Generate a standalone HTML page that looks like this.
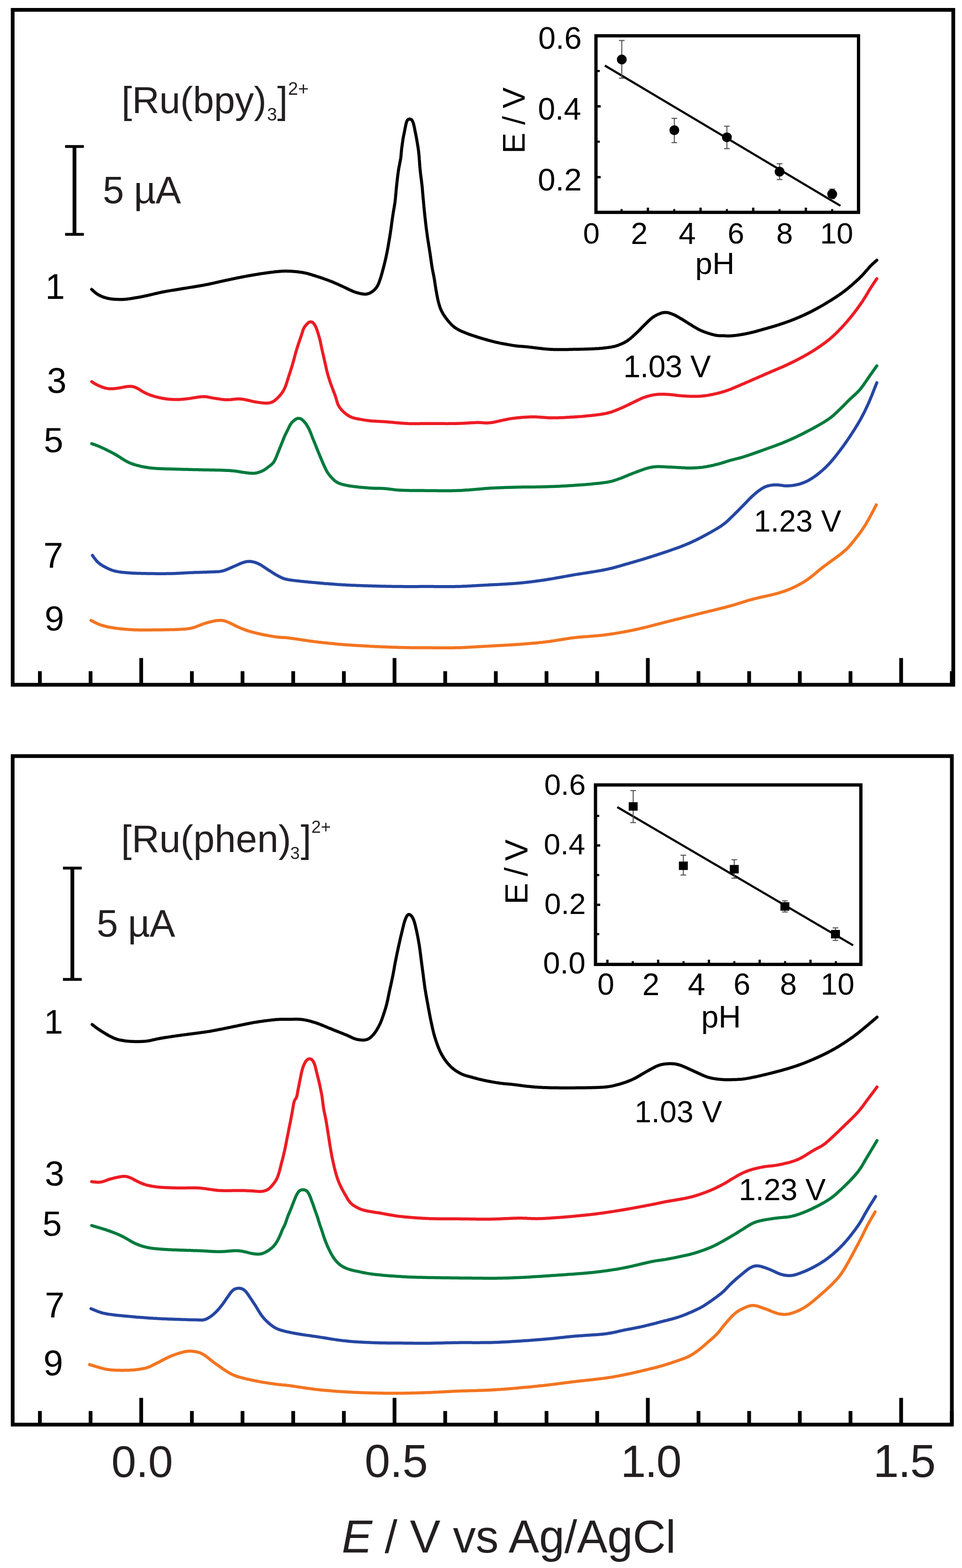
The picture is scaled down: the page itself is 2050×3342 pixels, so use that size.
<!DOCTYPE html><html><head><meta charset="utf-8"><title>Figure</title><style>html,body{margin:0;padding:0;background:#fff;}svg{display:block;}text{font-family:"Liberation Sans",Arial,Helvetica,sans-serif;}</style></head><body>
<svg xmlns="http://www.w3.org/2000/svg" width="2050" height="3342" viewBox="0 0 2050 3342">
<rect x="0" y="0" width="2050" height="3342" fill="#fff"/>
<rect x="27.0" y="21.0" width="2004.4" height="1438.5" fill="none" stroke="#000" stroke-width="8"/>
<line x1="85.0" y1="1459.5" x2="85.0" y2="1430.5" stroke="#000" stroke-width="8"/>
<line x1="193.0" y1="1459.5" x2="193.0" y2="1430.5" stroke="#000" stroke-width="8"/>
<line x1="300.9" y1="1459.5" x2="300.9" y2="1402.5" stroke="#000" stroke-width="8"/>
<line x1="408.9" y1="1459.5" x2="408.9" y2="1430.5" stroke="#000" stroke-width="8"/>
<line x1="516.8" y1="1459.5" x2="516.8" y2="1430.5" stroke="#000" stroke-width="8"/>
<line x1="624.8" y1="1459.5" x2="624.8" y2="1430.5" stroke="#000" stroke-width="8"/>
<line x1="732.8" y1="1459.5" x2="732.8" y2="1430.5" stroke="#000" stroke-width="8"/>
<line x1="840.7" y1="1459.5" x2="840.7" y2="1402.5" stroke="#000" stroke-width="8"/>
<line x1="948.7" y1="1459.5" x2="948.7" y2="1430.5" stroke="#000" stroke-width="8"/>
<line x1="1056.6" y1="1459.5" x2="1056.6" y2="1430.5" stroke="#000" stroke-width="8"/>
<line x1="1164.6" y1="1459.5" x2="1164.6" y2="1430.5" stroke="#000" stroke-width="8"/>
<line x1="1272.6" y1="1459.5" x2="1272.6" y2="1430.5" stroke="#000" stroke-width="8"/>
<line x1="1380.5" y1="1459.5" x2="1380.5" y2="1402.5" stroke="#000" stroke-width="8"/>
<line x1="1488.5" y1="1459.5" x2="1488.5" y2="1430.5" stroke="#000" stroke-width="8"/>
<line x1="1596.4" y1="1459.5" x2="1596.4" y2="1430.5" stroke="#000" stroke-width="8"/>
<line x1="1704.4" y1="1459.5" x2="1704.4" y2="1430.5" stroke="#000" stroke-width="8"/>
<line x1="1812.4" y1="1459.5" x2="1812.4" y2="1430.5" stroke="#000" stroke-width="8"/>
<line x1="1920.3" y1="1459.5" x2="1920.3" y2="1402.5" stroke="#000" stroke-width="8"/>
<line x1="2028.3" y1="1459.5" x2="2028.3" y2="1430.5" stroke="#000" stroke-width="8"/>
<rect x="27.0" y="1611.5" width="2001.4" height="1424.9" fill="none" stroke="#000" stroke-width="8"/>
<line x1="85.0" y1="3036.4" x2="85.0" y2="3007.4" stroke="#000" stroke-width="8"/>
<line x1="193.0" y1="3036.4" x2="193.0" y2="3007.4" stroke="#000" stroke-width="8"/>
<line x1="300.9" y1="3036.4" x2="300.9" y2="2979.4" stroke="#000" stroke-width="8"/>
<line x1="408.9" y1="3036.4" x2="408.9" y2="3007.4" stroke="#000" stroke-width="8"/>
<line x1="516.8" y1="3036.4" x2="516.8" y2="3007.4" stroke="#000" stroke-width="8"/>
<line x1="624.8" y1="3036.4" x2="624.8" y2="3007.4" stroke="#000" stroke-width="8"/>
<line x1="732.8" y1="3036.4" x2="732.8" y2="3007.4" stroke="#000" stroke-width="8"/>
<line x1="840.7" y1="3036.4" x2="840.7" y2="2979.4" stroke="#000" stroke-width="8"/>
<line x1="948.7" y1="3036.4" x2="948.7" y2="3007.4" stroke="#000" stroke-width="8"/>
<line x1="1056.6" y1="3036.4" x2="1056.6" y2="3007.4" stroke="#000" stroke-width="8"/>
<line x1="1164.6" y1="3036.4" x2="1164.6" y2="3007.4" stroke="#000" stroke-width="8"/>
<line x1="1272.6" y1="3036.4" x2="1272.6" y2="3007.4" stroke="#000" stroke-width="8"/>
<line x1="1380.5" y1="3036.4" x2="1380.5" y2="2979.4" stroke="#000" stroke-width="8"/>
<line x1="1488.5" y1="3036.4" x2="1488.5" y2="3007.4" stroke="#000" stroke-width="8"/>
<line x1="1596.4" y1="3036.4" x2="1596.4" y2="3007.4" stroke="#000" stroke-width="8"/>
<line x1="1704.4" y1="3036.4" x2="1704.4" y2="3007.4" stroke="#000" stroke-width="8"/>
<line x1="1812.4" y1="3036.4" x2="1812.4" y2="3007.4" stroke="#000" stroke-width="8"/>
<line x1="1920.3" y1="3036.4" x2="1920.3" y2="2979.4" stroke="#000" stroke-width="8"/>
<line x1="2028.3" y1="3036.4" x2="2028.3" y2="3007.4" stroke="#000" stroke-width="8"/>
<path d="M195.4,616.8L197.6,618.8L199.8,620.9L202.0,622.9L204.4,624.8L206.8,626.5L209.3,628.1L212.0,629.5L214.7,630.8L217.4,632.1L220.2,633.1L223.1,634.1L225.9,634.9L228.9,635.7L231.8,636.3L234.8,636.7L237.7,637.2L240.7,637.5L243.7,637.8L246.7,638.0L249.7,638.1L252.7,638.2L255.7,638.3L258.7,638.3L261.7,638.2L264.7,638.0L267.7,637.8L270.6,637.5L273.6,637.1L276.6,636.7L279.6,636.2L282.5,635.8L285.5,635.3L288.5,634.8L291.4,634.3L294.4,633.8L297.3,633.2L300.3,632.7L303.2,632.1L306.1,631.5L309.1,630.8L312.0,630.2L314.9,629.6L317.9,628.9L320.8,628.3L323.7,627.6L326.6,626.9L329.6,626.2L332.5,625.5L335.4,624.8L338.3,624.1L341.2,623.5L344.2,622.8L347.1,622.2L350.1,621.7L353.0,621.1L356.0,620.6L358.9,620.1L361.9,619.6L364.8,619.1L367.8,618.6L370.8,618.2L373.7,617.7L376.7,617.2L379.6,616.7L382.6,616.3L385.6,615.8L388.5,615.3L391.5,614.8L394.5,614.3L397.4,613.9L400.4,613.4L403.3,612.9L406.3,612.4L409.3,612.0L412.2,611.5L415.2,611.0L418.1,610.5L421.1,610.0L424.1,609.5L427.0,609.0L430.0,608.5L432.9,608.0L435.9,607.4L438.8,606.8L441.8,606.3L444.7,605.7L447.6,605.0L450.6,604.4L453.5,603.8L456.4,603.1L459.4,602.4L462.3,601.8L465.2,601.1L468.1,600.4L471.1,599.8L474.0,599.1L476.9,598.5L479.8,597.8L482.8,597.2L485.7,596.6L488.6,596.0L491.6,595.4L494.5,594.7L497.5,594.1L500.4,593.5L503.3,592.9L506.3,592.3L509.2,591.7L512.1,591.1L515.1,590.5L518.0,590.0L521.0,589.4L523.9,588.9L526.9,588.3L529.8,587.8L532.8,587.3L535.7,586.7L538.7,586.2L541.7,585.7L544.6,585.2L547.6,584.8L550.5,584.3L553.5,583.8L556.5,583.3L559.4,582.9L562.4,582.5L565.4,582.0L568.3,581.6L571.3,581.2L574.3,580.8L577.3,580.4L580.2,580.1L583.2,579.7L586.2,579.3L589.2,579.0L592.2,578.7L595.1,578.4L598.1,578.2L601.1,578.0L604.1,577.9L607.1,577.8L610.1,577.8L613.1,577.9L616.1,578.0L619.1,578.1L622.1,578.3L625.1,578.5L628.1,578.7L631.1,579.0L634.1,579.3L637.1,579.7L640.0,580.1L643.0,580.5L646.0,581.0L648.9,581.6L651.8,582.2L654.7,582.9L657.6,583.7L660.5,584.5L663.4,585.4L666.3,586.3L669.1,587.2L672.0,588.1L674.9,589.0L677.7,589.9L680.6,590.8L683.4,591.8L686.2,592.7L689.1,593.7L691.9,594.7L694.7,595.7L697.5,596.8L700.4,597.8L703.2,598.9L706.0,600.0L708.8,601.1L711.5,602.2L714.3,603.4L717.0,604.6L719.8,605.8L722.5,607.1L725.2,608.3L728.0,609.6L730.7,610.9L733.4,612.1L736.1,613.4L738.8,614.7L741.5,616.0L744.2,617.3L746.9,618.6L749.7,619.8L752.4,621.0L755.2,622.1L758.1,623.0L760.9,623.9L763.8,624.7L766.7,625.4L769.7,626.0L772.6,626.5L775.6,626.9L778.6,626.9L781.6,626.7L784.5,626.0L787.3,625.0L790.0,623.6L792.6,622.0L795.0,620.2L797.2,618.3L799.4,616.2L801.3,613.9L803.1,611.5L804.7,608.9L806.0,606.2L807.2,603.5L808.2,600.7L809.2,597.8L810.1,595.0L811.1,592.1L812.0,589.3L812.8,586.4L813.7,583.5L814.5,580.6L815.2,577.7L816.0,574.8L816.8,571.9L817.5,569.0L818.3,566.1L819.0,563.2L819.7,560.3L820.4,557.4L821.1,554.5L821.8,551.5L822.5,548.6L823.1,545.7L823.7,542.7L824.3,539.8L824.9,536.9L825.5,533.9L826.0,531.0L826.6,528.0L827.1,525.1L827.6,522.1L828.1,519.1L828.6,516.2L829.1,513.2L829.6,510.3L830.1,507.3L830.6,504.4L831.1,501.4L831.5,498.4L832.0,495.5L832.4,492.5L832.9,489.5L833.3,486.6L833.7,483.6L834.1,480.6L834.5,477.6L834.9,474.7L835.3,471.7L835.7,468.7L836.1,465.7L836.6,462.8L837.0,459.8L837.5,456.8L837.9,453.9L838.4,450.9L838.9,448.0L839.4,445.0L840.0,442.1L840.4,439.1L840.9,436.1L841.4,433.2L841.8,430.2L842.1,427.2L842.5,424.2L842.8,421.3L843.0,418.3L843.3,415.3L843.6,412.3L843.9,409.3L844.1,406.3L844.4,403.3L844.7,400.3L845.0,397.4L845.3,394.4L845.6,391.4L846.0,388.4L846.3,385.4L846.6,382.4L847.0,379.5L847.3,376.5L847.7,373.5L848.1,370.5L848.5,367.6L848.9,364.6L849.4,361.6L849.8,358.7L850.4,355.7L851.0,352.8L851.6,349.8L852.1,346.9L852.7,343.9L853.3,341.0L853.8,338.0L854.2,335.1L854.5,332.1L854.8,329.1L855.0,326.1L855.3,323.1L855.6,320.1L855.9,317.1L856.3,314.2L856.7,311.2L857.1,308.2L857.5,305.3L858.0,302.3L858.4,299.3L858.8,296.4L859.3,293.4L859.9,290.4L860.5,287.5L861.1,284.6L861.7,281.6L862.3,278.7L862.8,275.7L863.4,272.8L864.0,269.9L864.6,266.9L865.3,264.0L866.0,261.1L867.0,258.2L868.5,255.7L870.9,254.0L873.9,253.7L876.6,254.8L878.5,257.1L879.8,259.8L880.8,262.7L881.6,265.5L882.3,268.4L883.0,271.4L883.6,274.3L884.1,277.3L884.7,280.2L885.3,283.1L885.9,286.1L886.5,289.0L887.0,292.0L887.6,294.9L888.1,297.9L888.6,300.8L889.1,303.8L889.6,306.8L890.1,309.7L890.6,312.7L891.0,315.6L891.5,318.6L891.9,321.6L892.2,324.6L892.5,327.6L892.8,330.5L893.1,333.5L893.3,336.5L893.5,339.5L893.8,342.5L894.0,345.5L894.2,348.5L894.4,351.5L894.6,354.5L894.9,357.5L895.2,360.4L895.4,363.4L895.8,366.4L896.1,369.4L896.5,372.4L896.8,375.3L897.2,378.3L897.6,381.3L898.0,384.3L898.3,387.3L898.7,390.2L899.1,393.2L899.4,396.2L899.7,399.2L900.0,402.2L900.2,405.2L900.5,408.1L900.7,411.1L901.0,414.1L901.2,417.1L901.5,420.1L901.8,423.1L902.1,426.1L902.3,429.1L902.6,432.0L902.9,435.0L903.2,438.0L903.4,441.0L903.7,444.0L904.0,447.0L904.3,450.0L904.6,453.0L904.9,455.9L905.2,458.9L905.5,461.9L905.9,464.9L906.2,467.9L906.5,470.8L906.9,473.8L907.2,476.8L907.6,479.8L907.9,482.8L908.3,485.7L908.7,488.7L909.1,491.7L909.5,494.7L909.9,497.6L910.3,500.6L910.7,503.6L911.1,506.6L911.6,509.5L912.0,512.5L912.5,515.4L913.0,518.4L913.4,521.4L913.9,524.3L914.4,527.3L914.9,530.3L915.3,533.2L915.8,536.2L916.3,539.1L916.7,542.1L917.1,545.1L917.6,548.1L918.0,551.0L918.4,554.0L918.8,557.0L919.2,559.9L919.7,562.9L920.1,565.9L920.6,568.8L921.1,571.8L921.7,574.7L922.2,577.7L922.8,580.6L923.4,583.6L924.0,586.5L924.6,589.5L925.1,592.4L925.6,595.4L926.1,598.3L926.5,601.3L927.0,604.3L927.4,607.2L927.9,610.2L928.4,613.2L928.8,616.1L929.3,619.1L929.9,622.0L930.4,625.0L930.9,627.9L931.5,630.9L932.1,633.8L932.7,636.8L933.3,639.7L934.0,642.6L934.8,645.5L935.6,648.4L936.4,651.3L937.3,654.1L938.4,657.0L939.5,659.7L940.7,662.5L942.1,665.1L943.6,667.8L945.1,670.3L946.8,672.8L948.5,675.3L950.2,677.7L952.0,680.1L953.8,682.5L955.7,684.8L957.7,687.1L959.7,689.3L961.8,691.5L963.9,693.6L966.2,695.6L968.5,697.5L970.9,699.2L973.5,700.8L976.1,702.3L978.7,703.7L981.4,705.1L984.1,706.3L986.9,707.5L989.7,708.6L992.5,709.8L995.3,710.8L998.1,711.9L1000.9,712.9L1003.7,713.9L1006.6,714.8L1009.4,715.8L1012.3,716.7L1015.1,717.6L1018.0,718.6L1020.8,719.5L1023.7,720.3L1026.6,721.2L1029.5,722.1L1032.3,722.9L1035.2,723.7L1038.1,724.5L1041.0,725.3L1043.9,726.1L1046.8,726.9L1049.7,727.7L1052.6,728.4L1055.5,729.1L1058.4,729.8L1061.4,730.4L1064.3,731.1L1067.2,731.6L1070.2,732.2L1073.1,732.8L1076.1,733.3L1079.0,733.8L1082.0,734.4L1085.0,734.9L1087.9,735.4L1090.9,735.9L1093.8,736.4L1096.8,736.8L1099.8,737.2L1102.7,737.6L1105.7,737.9L1108.7,738.1L1111.7,738.2L1114.7,738.4L1117.7,738.7L1120.7,738.9L1123.7,739.3L1126.7,739.6L1129.6,740.0L1132.6,740.3L1135.6,740.7L1138.6,741.1L1141.5,741.4L1144.5,741.8L1147.5,742.2L1150.5,742.5L1153.5,742.8L1156.4,743.2L1159.4,743.5L1162.4,743.8L1165.4,744.0L1168.4,744.3L1171.4,744.5L1174.4,744.7L1177.4,744.8L1180.4,744.9L1183.4,745.0L1186.4,745.0L1189.4,745.1L1192.4,745.1L1195.4,745.1L1198.4,745.0L1201.4,745.0L1204.4,745.0L1207.4,744.9L1210.4,744.9L1213.4,744.8L1216.4,744.7L1219.4,744.7L1222.4,744.6L1225.4,744.6L1228.4,744.5L1231.4,744.5L1234.4,744.4L1237.4,744.3L1240.4,744.3L1243.4,744.2L1246.4,744.1L1249.4,744.0L1252.4,743.9L1255.4,743.8L1258.4,743.7L1261.3,743.6L1264.3,743.4L1267.3,743.3L1270.3,743.1L1273.3,742.9L1276.3,742.7L1279.3,742.4L1282.3,742.2L1285.3,741.9L1288.3,741.6L1291.3,741.3L1294.2,740.9L1297.2,740.5L1300.2,740.0L1303.1,739.6L1306.1,739.0L1309.0,738.3L1311.9,737.6L1314.8,736.7L1317.6,735.7L1320.4,734.6L1323.2,733.5L1325.9,732.3L1328.6,731.0L1331.3,729.6L1333.9,728.1L1336.5,726.6L1338.9,724.8L1341.3,723.0L1343.7,721.2L1345.9,719.2L1348.2,717.2L1350.4,715.2L1352.6,713.2L1354.8,711.1L1357.0,709.1L1359.1,707.0L1361.3,704.9L1363.4,702.7L1365.5,700.6L1367.6,698.4L1369.7,696.3L1371.8,694.2L1373.9,692.1L1376.1,690.0L1378.2,687.9L1380.3,685.8L1382.5,683.7L1384.7,681.6L1386.9,679.6L1389.3,677.7L1391.7,676.0L1394.2,674.3L1396.8,672.8L1399.4,671.4L1402.1,670.1L1404.9,668.9L1407.7,667.8L1410.5,666.9L1413.5,666.3L1416.5,665.9L1419.4,665.9L1422.4,666.3L1425.4,666.9L1428.2,667.8L1431.0,668.8L1433.8,669.9L1436.6,671.1L1439.3,672.4L1441.9,673.9L1444.5,675.3L1447.1,676.8L1449.7,678.4L1452.3,679.9L1454.9,681.4L1457.4,683.0L1460.0,684.6L1462.5,686.2L1465.0,687.8L1467.6,689.4L1470.1,691.0L1472.7,692.6L1475.2,694.2L1477.8,695.7L1480.3,697.3L1482.9,698.8L1485.5,700.3L1488.1,701.8L1490.8,703.1L1493.5,704.4L1496.3,705.6L1499.1,706.7L1501.9,707.7L1504.7,708.7L1507.6,709.7L1510.4,710.6L1513.3,711.5L1516.1,712.4L1519.0,713.2L1521.9,713.9L1524.9,714.5L1527.8,715.0L1530.8,715.3L1533.8,715.4L1536.8,715.5L1539.8,715.5L1542.8,715.6L1545.8,715.8L1548.8,715.9L1551.8,715.9L1554.8,715.9L1557.8,715.8L1560.8,715.6L1563.8,715.3L1566.8,715.0L1569.8,714.6L1572.7,714.2L1575.7,713.7L1578.7,713.3L1581.6,712.8L1584.6,712.2L1587.5,711.7L1590.5,711.1L1593.4,710.5L1596.3,709.9L1599.3,709.2L1602.2,708.5L1605.1,707.8L1608.0,707.1L1610.9,706.3L1613.8,705.5L1616.7,704.7L1619.6,703.9L1622.5,703.1L1625.3,702.2L1628.2,701.4L1631.1,700.6L1634.0,699.8L1636.9,698.9L1639.8,698.1L1642.6,697.3L1645.5,696.5L1648.4,695.6L1651.3,694.8L1654.2,693.9L1657.0,693.0L1659.9,692.1L1662.7,691.1L1665.6,690.2L1668.4,689.2L1671.3,688.3L1674.1,687.3L1676.9,686.3L1679.7,685.3L1682.6,684.2L1685.4,683.2L1688.2,682.1L1691.0,681.0L1693.8,679.9L1696.5,678.8L1699.3,677.6L1702.1,676.5L1704.8,675.3L1707.6,674.0L1710.3,672.8L1713.0,671.6L1715.7,670.3L1718.4,669.0L1721.1,667.7L1723.8,666.4L1726.5,665.0L1729.2,663.7L1731.9,662.3L1734.5,660.9L1737.2,659.5L1739.8,658.1L1742.4,656.6L1745.1,655.2L1747.7,653.7L1750.3,652.2L1752.9,650.7L1755.5,649.2L1758.1,647.7L1760.6,646.2L1763.2,644.6L1765.8,643.0L1768.3,641.5L1770.9,639.9L1773.4,638.3L1775.9,636.7L1778.5,635.1L1781.0,633.5L1783.5,631.8L1786.0,630.1L1788.5,628.5L1790.9,626.7L1793.4,625.0L1795.8,623.2L1798.2,621.4L1800.6,619.6L1802.9,617.7L1805.3,615.9L1807.6,614.0L1809.9,612.0L1812.2,610.1L1814.5,608.2L1816.7,606.2L1819.0,604.2L1821.2,602.2L1823.5,600.2L1825.7,598.2L1827.9,596.1L1830.1,594.1L1832.2,592.0L1834.4,589.9L1836.5,587.8L1838.5,585.6L1840.6,583.4L1842.6,581.1L1844.5,578.9L1846.5,576.6L1848.5,574.3L1850.4,572.1L1852.4,569.8L1854.5,567.6L1856.5,565.5L1858.7,563.4L1860.9,561.3L1863.1,559.3L1865.4,557.3L1867.6,555.4L1868.5,554.6" fill="none" stroke="#000000" stroke-width="6.5" stroke-linecap="round" stroke-linejoin="round"/>
<path d="M195.4,813.4L197.9,815.0L200.4,816.7L203.0,818.3L205.6,819.7L208.3,821.1L211.0,822.3L213.8,823.5L216.6,824.6L219.4,825.6L222.2,826.5L225.1,827.3L228.1,827.9L231.0,828.4L234.0,828.6L237.0,828.6L240.0,828.5L243.0,828.2L246.0,827.9L249.0,827.6L252.0,827.2L254.9,826.7L257.9,826.2L260.8,825.6L263.8,825.1L266.7,824.5L269.7,824.0L272.7,823.7L275.7,823.5L278.7,823.6L281.6,823.8L284.6,824.4L287.4,825.3L290.2,826.5L292.9,827.8L295.5,829.3L298.1,830.8L300.6,832.4L303.2,834.0L305.8,835.5L308.4,836.9L311.1,838.2L313.9,839.4L316.6,840.6L319.4,841.7L322.3,842.7L325.1,843.6L328.0,844.5L330.8,845.4L333.7,846.1L336.7,846.8L339.6,847.5L342.5,848.1L345.5,848.7L348.4,849.2L351.4,849.7L354.3,850.2L357.3,850.5L360.3,850.9L363.3,851.1L366.3,851.3L369.3,851.5L372.3,851.5L375.3,851.6L378.3,851.5L381.3,851.4L384.3,851.3L387.3,851.1L390.3,850.9L393.2,850.6L396.2,850.3L399.2,849.9L402.2,849.5L405.1,849.1L408.1,848.6L411.1,848.1L414.0,847.6L417.0,847.2L420.0,846.7L422.9,846.3L425.9,845.9L428.9,845.6L431.9,845.4L434.9,845.3L437.9,845.5L440.9,845.8L443.8,846.4L446.7,847.0L449.7,847.6L452.6,848.1L455.6,848.6L458.6,849.0L461.5,849.5L464.5,850.0L467.5,850.4L470.4,850.9L473.4,851.3L476.4,851.6L479.4,851.9L482.4,852.0L485.4,852.0L488.4,851.9L491.4,851.7L494.3,851.4L497.3,851.1L500.3,850.8L503.3,850.5L506.3,850.3L509.3,850.3L512.3,850.4L515.3,850.6L518.2,851.0L521.2,851.6L524.1,852.2L527.1,852.8L530.0,853.5L532.9,854.2L535.8,854.9L538.7,855.6L541.7,856.1L544.6,856.7L547.6,857.1L550.6,857.6L553.5,858.0L556.5,858.4L559.5,858.8L562.5,859.1L565.5,859.2L568.5,859.2L571.5,859.0L574.4,858.6L577.3,857.9L580.1,856.8L582.8,855.4L585.3,853.7L587.6,851.8L589.8,849.8L592.0,847.7L594.1,845.6L596.1,843.4L598.0,841.1L599.9,838.7L601.6,836.3L603.2,833.7L604.7,831.1L606.1,828.5L607.4,825.7L608.5,823.0L609.6,820.2L610.5,817.3L611.4,814.5L612.3,811.6L613.2,808.7L614.1,805.9L615.0,803.0L615.9,800.2L616.9,797.3L617.8,794.5L618.7,791.6L619.6,788.7L620.5,785.9L621.4,783.0L622.3,780.1L623.2,777.3L624.0,774.4L624.8,771.5L625.6,768.6L626.4,765.7L627.2,762.8L628.0,759.9L628.7,757.0L629.5,754.1L630.3,751.2L631.2,748.4L632.0,745.5L632.9,742.6L633.8,739.7L634.7,736.9L635.6,734.0L636.6,731.2L637.5,728.4L638.5,725.5L639.5,722.7L640.5,719.9L641.5,717.0L642.4,714.2L643.3,711.3L644.2,708.4L645.1,705.6L646.0,702.7L647.2,700.0L648.7,697.3L650.4,694.9L652.3,692.6L654.3,690.3L656.4,688.3L658.9,686.6L661.8,685.9L664.8,686.5L667.3,688.1L669.3,690.4L670.9,692.9L672.3,695.5L673.6,698.2L674.7,701.0L675.7,703.9L676.6,706.7L677.5,709.6L678.4,712.5L679.3,715.3L680.1,718.2L681.0,721.1L681.7,724.0L682.4,726.9L683.0,729.8L683.6,732.8L684.2,735.7L684.8,738.7L685.5,741.6L686.1,744.5L686.8,747.4L687.4,750.4L688.1,753.3L688.8,756.2L689.4,759.1L690.1,762.1L690.8,765.0L691.4,767.9L692.1,770.8L692.7,773.8L693.4,776.7L694.0,779.6L694.7,782.6L695.3,785.5L696.0,788.4L696.7,791.3L697.5,794.2L698.2,797.1L699.0,800.0L699.9,802.9L700.8,805.8L701.7,808.6L702.6,811.5L703.5,814.3L704.5,817.2L705.5,820.0L706.6,822.8L707.6,825.6L708.7,828.4L709.7,831.2L710.8,834.0L711.9,836.8L713.0,839.6L714.0,842.4L715.0,845.3L715.9,848.1L716.7,851.0L717.5,853.9L718.4,856.8L719.3,859.6L720.4,862.4L721.8,865.1L723.3,867.7L725.1,870.1L726.9,872.5L728.9,874.7L731.0,876.8L733.2,878.9L735.5,880.9L737.8,882.7L740.3,884.5L742.8,886.1L745.4,887.6L748.1,888.8L750.9,890.0L753.8,890.9L756.7,891.6L759.6,892.2L762.6,892.8L765.5,893.4L768.5,893.9L771.4,894.4L774.4,894.9L777.3,895.4L780.3,895.8L783.3,896.3L786.2,896.6L789.2,896.9L792.2,897.2L795.2,897.4L798.2,897.6L801.2,897.8L804.2,897.9L807.2,898.1L810.2,898.2L813.2,898.4L816.2,898.6L819.2,898.8L822.2,899.0L825.2,899.2L828.1,899.5L831.1,899.7L834.1,900.0L837.1,900.3L840.1,900.6L843.1,900.9L846.1,901.1L849.1,901.4L852.0,901.6L855.0,901.9L858.0,902.1L861.0,902.3L864.0,902.5L867.0,902.6L870.0,902.8L873.0,902.9L876.0,902.9L879.0,903.0L882.0,903.0L885.0,903.0L888.0,903.0L891.0,902.9L894.0,902.9L897.0,902.8L900.0,902.8L903.0,902.8L906.0,902.7L909.0,902.7L912.0,902.7L915.0,902.7L918.0,902.7L921.0,902.7L924.0,902.7L927.0,902.7L930.0,902.8L933.0,902.8L936.0,902.8L939.0,902.8L942.0,902.8L945.0,902.8L948.0,902.8L951.0,902.9L954.0,902.9L957.0,902.8L960.0,902.8L963.0,902.8L966.0,902.8L969.0,902.8L972.0,902.7L975.0,902.6L978.0,902.5L981.0,902.4L984.0,902.3L987.0,902.2L990.0,902.0L993.0,901.8L996.0,901.7L999.0,901.5L1002.0,901.3L1005.0,901.1L1008.0,901.0L1011.0,900.8L1013.9,900.7L1016.9,900.6L1019.9,900.6L1022.9,900.7L1025.9,900.8L1028.9,901.1L1031.9,901.3L1034.9,901.4L1037.9,901.4L1040.9,901.3L1043.9,901.1L1046.9,900.7L1049.9,900.2L1052.8,899.7L1055.8,899.1L1058.7,898.5L1061.6,897.9L1064.5,897.2L1067.5,896.5L1070.4,895.9L1073.3,895.2L1076.3,894.6L1079.2,894.0L1082.1,893.4L1085.1,892.9L1088.0,892.4L1091.0,891.9L1094.0,891.5L1097.0,891.2L1099.9,890.8L1102.9,890.5L1105.9,890.2L1108.9,889.9L1111.9,889.6L1114.9,889.4L1117.9,889.2L1120.9,889.0L1123.9,888.9L1126.9,888.7L1129.9,888.6L1132.9,888.5L1135.9,888.5L1138.9,888.5L1141.9,888.6L1144.8,888.8L1147.8,888.9L1150.8,889.1L1153.8,889.4L1156.8,889.6L1159.8,889.8L1162.8,890.0L1165.8,890.2L1168.8,890.4L1171.8,890.5L1174.8,890.6L1177.8,890.6L1180.8,890.6L1183.8,890.5L1186.8,890.5L1189.8,890.4L1192.8,890.3L1195.8,890.2L1198.8,890.1L1201.8,889.9L1204.8,889.8L1207.8,889.6L1210.8,889.5L1213.8,889.3L1216.8,889.1L1219.8,889.0L1222.7,888.8L1225.7,888.6L1228.7,888.4L1231.7,888.1L1234.7,887.9L1237.7,887.7L1240.7,887.4L1243.7,887.2L1246.7,886.9L1249.7,886.6L1252.6,886.3L1255.6,886.1L1258.6,885.7L1261.6,885.4L1264.6,885.1L1267.6,884.8L1270.5,884.4L1273.5,884.0L1276.5,883.6L1279.5,883.2L1282.4,882.7L1285.4,882.2L1288.3,881.7L1291.3,881.1L1294.2,880.5L1297.1,879.7L1300.0,878.9L1302.9,878.1L1305.7,877.1L1308.5,876.0L1311.3,875.0L1314.1,873.8L1316.9,872.7L1319.7,871.6L1322.4,870.4L1325.2,869.2L1327.9,868.0L1330.6,866.7L1333.3,865.4L1336.1,864.1L1338.7,862.8L1341.4,861.5L1344.1,860.2L1346.9,858.9L1349.6,857.6L1352.3,856.3L1355.0,855.0L1357.7,853.7L1360.3,852.4L1363.0,851.1L1365.8,849.8L1368.5,848.6L1371.3,847.5L1374.1,846.5L1377.0,845.6L1379.9,844.7L1382.8,843.9L1385.7,843.2L1388.6,842.5L1391.5,841.9L1394.5,841.4L1397.5,841.0L1400.4,840.6L1403.4,840.4L1406.4,840.2L1409.4,840.2L1412.4,840.2L1415.4,840.2L1418.4,840.4L1421.4,840.5L1424.4,840.7L1427.4,840.9L1430.4,841.2L1433.4,841.5L1436.3,841.9L1439.3,842.3L1442.3,842.7L1445.3,843.0L1448.3,843.3L1451.3,843.6L1454.2,843.8L1457.2,844.0L1460.2,844.1L1463.2,844.3L1466.2,844.4L1469.2,844.6L1472.2,844.7L1475.2,844.8L1478.2,844.8L1481.2,844.8L1484.2,844.8L1487.2,844.7L1490.2,844.6L1493.2,844.4L1496.2,844.1L1499.2,843.8L1502.2,843.5L1505.1,843.0L1508.1,842.6L1511.0,842.1L1514.0,841.5L1516.9,841.0L1519.9,840.4L1522.8,839.7L1525.7,839.1L1528.7,838.4L1531.6,837.6L1534.5,836.9L1537.4,836.1L1540.2,835.2L1543.1,834.4L1546.0,833.5L1548.8,832.5L1551.7,831.5L1554.5,830.5L1557.3,829.4L1560.0,828.3L1562.8,827.1L1565.6,825.9L1568.3,824.7L1571.1,823.6L1573.8,822.4L1576.6,821.2L1579.4,820.0L1582.1,818.8L1584.9,817.7L1587.6,816.5L1590.4,815.3L1593.1,814.1L1595.9,812.9L1598.6,811.7L1601.4,810.5L1604.1,809.3L1606.9,808.1L1609.6,806.9L1612.4,805.7L1615.1,804.5L1617.9,803.3L1620.6,802.1L1623.4,800.9L1626.1,799.7L1628.9,798.5L1631.6,797.3L1634.4,796.1L1637.1,794.9L1639.9,793.7L1642.6,792.5L1645.4,791.3L1648.2,790.2L1650.9,789.0L1653.7,787.8L1656.4,786.7L1659.2,785.5L1662.0,784.3L1664.7,783.1L1667.5,781.9L1670.2,780.7L1672.9,779.4L1675.7,778.2L1678.4,776.9L1681.1,775.6L1683.8,774.3L1686.5,773.0L1689.2,771.7L1691.9,770.4L1694.6,769.1L1697.2,767.7L1699.9,766.3L1702.6,764.9L1705.2,763.5L1707.9,762.1L1710.5,760.7L1713.1,759.2L1715.7,757.7L1718.3,756.3L1721.0,754.8L1723.6,753.3L1726.1,751.8L1728.7,750.2L1731.3,748.7L1733.8,747.1L1736.3,745.5L1738.9,743.8L1741.4,742.2L1743.8,740.5L1746.3,738.8L1748.8,737.1L1751.2,735.3L1753.7,733.6L1756.1,731.8L1758.5,730.1L1760.9,728.3L1763.3,726.4L1765.7,724.6L1768.0,722.7L1770.3,720.8L1772.6,718.8L1774.8,716.8L1777.0,714.8L1779.2,712.7L1781.4,710.7L1783.5,708.6L1785.6,706.4L1787.7,704.3L1789.8,702.1L1791.9,699.9L1793.9,697.8L1795.9,695.5L1798.0,693.3L1800.0,691.1L1801.9,688.8L1803.9,686.6L1805.9,684.3L1807.8,682.0L1809.8,679.7L1811.7,677.4L1813.6,675.1L1815.5,672.8L1817.3,670.4L1819.2,668.1L1821.0,665.7L1822.8,663.3L1824.6,660.9L1826.4,658.5L1828.2,656.0L1829.9,653.6L1831.6,651.2L1833.4,648.7L1835.1,646.2L1836.8,643.8L1838.5,641.3L1840.1,638.8L1841.7,636.3L1843.3,633.7L1844.9,631.2L1846.4,628.6L1848.0,626.0L1849.5,623.4L1851.0,620.8L1852.6,618.3L1854.1,615.7L1855.7,613.2L1857.4,610.7L1859.0,608.1L1860.7,605.6L1862.3,603.1L1864.0,600.7L1865.7,598.2L1867.4,595.7L1868.5,594.0" fill="none" stroke="#ed1c24" stroke-width="6.5" stroke-linecap="round" stroke-linejoin="round"/>
<path d="M195.4,945.6L198.2,946.6L201.1,947.6L203.9,948.6L206.7,949.7L209.5,950.8L212.3,951.9L215.0,953.1L217.7,954.4L220.4,955.6L223.2,956.9L225.9,958.2L228.5,959.6L231.2,960.9L233.9,962.3L236.6,963.6L239.2,965.0L241.9,966.4L244.5,967.9L247.1,969.4L249.7,970.9L252.2,972.5L254.8,974.1L257.3,975.7L259.8,977.4L262.3,979.0L264.9,980.6L267.5,982.1L270.1,983.5L272.8,984.9L275.5,986.2L278.2,987.3L281.0,988.4L283.9,989.4L286.7,990.3L289.6,991.2L292.5,992.0L295.4,992.7L298.3,993.4L301.2,994.1L304.2,994.7L307.1,995.3L310.1,995.8L313.0,996.3L316.0,996.8L319.0,997.2L322.0,997.5L324.9,997.8L327.9,998.0L330.9,998.3L333.9,998.5L336.9,998.7L339.9,998.8L342.9,999.0L345.9,999.1L348.9,999.2L351.9,999.3L354.9,999.4L357.9,999.5L360.9,999.6L363.9,999.6L366.9,999.7L369.9,999.8L372.9,999.8L375.9,999.9L378.9,1000.0L381.9,1000.1L384.9,1000.2L387.9,1000.3L390.9,1000.4L393.9,1000.4L396.9,1000.5L399.9,1000.6L402.9,1000.7L405.9,1000.8L408.9,1000.8L411.9,1000.9L414.9,1001.0L417.9,1001.1L420.9,1001.1L423.9,1001.2L426.9,1001.3L429.9,1001.3L432.9,1001.4L435.9,1001.4L438.9,1001.5L441.9,1001.6L444.9,1001.6L447.9,1001.7L450.9,1001.7L453.9,1001.8L456.9,1001.8L459.9,1001.9L462.9,1002.0L465.9,1002.0L468.9,1002.1L471.9,1002.2L474.9,1002.3L477.9,1002.4L480.9,1002.5L483.8,1002.7L486.8,1002.8L489.8,1003.0L492.8,1003.2L495.8,1003.5L498.8,1003.7L501.8,1004.1L504.8,1004.5L507.7,1005.0L510.7,1005.5L513.6,1006.0L516.6,1006.5L519.6,1006.9L522.5,1007.3L525.5,1007.7L528.5,1008.1L531.5,1008.4L534.5,1008.6L537.5,1008.8L540.5,1008.7L543.4,1008.5L546.4,1008.0L549.3,1007.3L552.2,1006.4L555.0,1005.4L557.8,1004.3L560.5,1003.0L563.1,1001.6L565.7,999.9L568.1,998.2L570.4,996.3L572.8,994.5L575.2,992.7L577.6,990.8L579.8,988.8L581.9,986.7L583.7,984.3L585.2,981.7L586.6,979.0L587.8,976.3L589.0,973.5L590.1,970.7L591.1,967.9L592.2,965.1L593.4,962.4L594.5,959.6L595.6,956.8L596.7,954.0L597.9,951.2L599.0,948.4L600.1,945.7L601.2,942.9L602.3,940.1L603.4,937.3L604.5,934.5L605.6,931.7L606.8,929.0L608.1,926.2L609.4,923.6L610.8,920.9L612.1,918.2L613.5,915.5L614.8,912.8L616.0,910.1L617.4,907.4L618.8,904.8L620.5,902.3L622.5,900.0L624.6,898.0L626.9,896.0L629.2,894.1L631.8,892.6L634.7,891.7L637.6,891.7L640.5,892.4L643.1,893.9L645.4,895.9L647.5,898.0L649.5,900.2L651.4,902.6L653.1,905.0L654.7,907.6L656.2,910.2L657.6,912.8L659.0,915.5L660.2,918.2L661.4,921.0L662.5,923.8L663.6,926.6L664.6,929.4L665.7,932.2L666.8,935.0L668.0,937.7L669.1,940.5L670.2,943.3L671.4,946.1L672.5,948.9L673.6,951.7L674.7,954.4L675.8,957.2L676.9,960.0L678.0,962.8L679.2,965.6L680.3,968.3L681.5,971.1L682.6,973.9L683.8,976.7L685.0,979.4L686.1,982.2L687.3,984.9L688.5,987.7L689.7,990.4L690.9,993.2L692.2,995.9L693.4,998.6L694.8,1001.3L696.2,1004.0L697.7,1006.5L699.4,1009.0L701.1,1011.5L703.0,1013.8L704.9,1016.1L706.9,1018.3L709.0,1020.5L711.2,1022.6L713.4,1024.5L715.8,1026.4L718.4,1028.0L721.0,1029.4L723.8,1030.5L726.6,1031.6L729.5,1032.4L732.4,1033.2L735.3,1033.8L738.2,1034.4L741.2,1035.0L744.1,1035.5L747.1,1036.0L750.1,1036.4L753.1,1036.8L756.0,1037.2L759.0,1037.5L762.0,1037.8L765.0,1038.2L768.0,1038.5L770.9,1038.8L773.9,1039.0L776.9,1039.3L779.9,1039.5L782.9,1039.8L785.9,1040.0L788.9,1040.2L791.9,1040.4L794.9,1040.5L797.9,1040.7L800.9,1040.8L803.9,1040.8L806.9,1040.8L809.9,1040.8L812.9,1040.9L815.9,1041.0L818.9,1041.2L821.9,1041.4L824.8,1041.7L827.8,1042.1L830.8,1042.5L833.8,1042.9L836.7,1043.3L839.7,1043.6L842.7,1044.0L845.7,1044.3L848.7,1044.5L851.7,1044.7L854.7,1044.8L857.7,1045.0L860.7,1045.1L863.7,1045.2L866.7,1045.2L869.7,1045.3L872.7,1045.4L875.7,1045.4L878.7,1045.4L881.7,1045.5L884.7,1045.5L887.7,1045.5L890.7,1045.6L893.7,1045.6L896.7,1045.6L899.7,1045.6L902.7,1045.6L905.7,1045.7L908.7,1045.7L911.7,1045.7L914.7,1045.7L917.7,1045.7L920.7,1045.8L923.7,1045.8L926.7,1045.8L929.7,1045.8L932.7,1045.9L935.7,1045.9L938.7,1045.9L941.6,1045.9L944.6,1045.9L947.6,1046.0L950.6,1046.0L953.6,1046.0L956.6,1045.9L959.6,1045.9L962.6,1045.9L965.6,1045.8L968.6,1045.8L971.6,1045.7L974.6,1045.6L977.6,1045.5L980.6,1045.4L983.6,1045.2L986.6,1045.0L989.6,1044.8L992.6,1044.6L995.6,1044.4L998.6,1044.2L1001.6,1043.9L1004.6,1043.7L1007.6,1043.5L1010.6,1043.2L1013.6,1043.0L1016.5,1042.7L1019.5,1042.5L1022.5,1042.2L1025.5,1042.0L1028.5,1041.7L1031.5,1041.4L1034.5,1041.1L1037.5,1040.9L1040.5,1040.7L1043.4,1040.5L1046.4,1040.3L1049.4,1040.2L1052.4,1040.1L1055.4,1039.9L1058.4,1039.8L1061.4,1039.7L1064.4,1039.6L1067.4,1039.5L1070.4,1039.3L1073.4,1039.2L1076.4,1039.1L1079.4,1039.0L1082.4,1038.9L1085.4,1038.8L1088.4,1038.8L1091.4,1038.7L1094.4,1038.6L1097.4,1038.5L1100.4,1038.4L1103.4,1038.3L1106.4,1038.3L1109.4,1038.2L1112.4,1038.1L1115.4,1038.1L1118.4,1038.1L1121.4,1038.0L1124.4,1038.0L1127.4,1038.0L1130.4,1037.9L1133.4,1037.9L1136.4,1037.9L1139.4,1037.9L1142.4,1037.8L1145.4,1037.8L1148.4,1037.7L1151.4,1037.7L1154.4,1037.6L1157.4,1037.6L1160.4,1037.5L1163.4,1037.4L1166.4,1037.3L1169.4,1037.2L1172.4,1037.1L1175.4,1037.0L1178.4,1036.9L1181.4,1036.8L1184.4,1036.7L1187.4,1036.5L1190.4,1036.4L1193.4,1036.3L1196.4,1036.1L1199.4,1036.0L1202.4,1035.8L1205.4,1035.7L1208.4,1035.5L1211.4,1035.3L1214.3,1035.1L1217.3,1034.9L1220.3,1034.7L1223.3,1034.5L1226.3,1034.3L1229.3,1034.1L1232.3,1033.9L1235.3,1033.6L1238.3,1033.4L1241.3,1033.2L1244.3,1032.9L1247.3,1032.7L1250.2,1032.4L1253.2,1032.2L1256.2,1031.9L1259.2,1031.7L1262.2,1031.4L1265.2,1031.1L1268.2,1030.8L1271.2,1030.5L1274.1,1030.2L1277.1,1029.9L1280.1,1029.6L1283.1,1029.2L1286.1,1028.8L1289.0,1028.4L1292.0,1028.0L1295.0,1027.5L1297.9,1026.9L1300.8,1026.3L1303.8,1025.6L1306.7,1024.8L1309.5,1023.9L1312.4,1023.0L1315.2,1022.0L1318.0,1021.0L1320.9,1020.0L1323.7,1019.0L1326.5,1017.9L1329.3,1016.8L1332.0,1015.6L1334.8,1014.5L1337.6,1013.3L1340.3,1012.1L1343.1,1011.0L1345.9,1009.9L1348.7,1008.8L1351.5,1007.8L1354.3,1006.8L1357.1,1005.7L1359.9,1004.6L1362.7,1003.6L1365.5,1002.5L1368.4,1001.5L1371.2,1000.5L1374.0,999.5L1376.9,998.6L1379.8,997.8L1382.7,997.0L1385.6,996.4L1388.6,995.8L1391.5,995.3L1394.5,995.0L1397.5,994.8L1400.5,994.6L1403.5,994.6L1406.5,994.6L1409.5,994.7L1412.5,994.8L1415.5,995.0L1418.5,995.1L1421.5,995.3L1424.5,995.4L1427.5,995.5L1430.5,995.6L1433.5,995.8L1436.5,995.9L1439.5,996.1L1442.4,996.2L1445.4,996.4L1448.4,996.6L1451.4,996.8L1454.4,997.0L1457.4,997.1L1460.4,997.3L1463.4,997.4L1466.4,997.5L1469.4,997.5L1472.4,997.5L1475.4,997.4L1478.4,997.3L1481.4,997.2L1484.4,997.0L1487.4,996.8L1490.4,996.5L1493.4,996.2L1496.3,995.9L1499.3,995.5L1502.3,995.0L1505.3,994.6L1508.2,994.0L1511.2,993.5L1514.1,992.9L1517.0,992.3L1520.0,991.6L1522.9,990.9L1525.8,990.2L1528.7,989.5L1531.6,988.7L1534.5,987.9L1537.4,987.1L1540.2,986.2L1543.1,985.3L1546.0,984.4L1548.8,983.5L1551.7,982.6L1554.6,981.7L1557.4,980.9L1560.3,980.1L1563.2,979.3L1566.2,978.6L1569.1,977.9L1572.0,977.2L1574.9,976.5L1577.8,975.7L1580.7,974.9L1583.6,974.0L1586.4,973.1L1589.3,972.2L1592.1,971.3L1595.0,970.3L1597.8,969.3L1600.6,968.4L1603.5,967.4L1606.3,966.4L1609.1,965.4L1612.0,964.4L1614.8,963.4L1617.6,962.4L1620.4,961.4L1623.3,960.3L1626.1,959.3L1628.9,958.3L1631.7,957.3L1634.5,956.3L1637.4,955.3L1640.2,954.2L1643.0,953.2L1645.8,952.2L1648.7,951.2L1651.5,950.2L1654.3,949.1L1657.1,948.1L1659.9,947.0L1662.7,946.0L1665.5,944.9L1668.3,943.8L1671.1,942.6L1673.8,941.5L1676.6,940.3L1679.4,939.1L1682.1,937.9L1684.9,936.7L1687.6,935.5L1690.3,934.2L1693.0,933.0L1695.8,931.7L1698.5,930.4L1701.2,929.1L1703.9,927.8L1706.6,926.5L1709.2,925.1L1711.9,923.8L1714.6,922.4L1717.3,921.0L1719.9,919.6L1722.6,918.2L1725.2,916.8L1727.9,915.4L1730.5,914.0L1733.2,912.6L1735.8,911.1L1738.4,909.7L1741.0,908.2L1743.7,906.8L1746.3,905.3L1748.9,903.8L1751.4,902.3L1754.0,900.7L1756.6,899.2L1759.1,897.6L1761.7,896.0L1764.2,894.3L1766.6,892.6L1769.1,890.9L1771.4,889.0L1773.8,887.1L1776.1,885.2L1778.3,883.2L1780.5,881.2L1782.7,879.1L1784.8,877.0L1787.0,874.9L1789.1,872.8L1791.3,870.8L1793.5,868.7L1795.6,866.6L1797.7,864.5L1799.8,862.3L1801.9,860.2L1804.0,858.0L1806.1,855.9L1808.2,853.8L1810.4,851.7L1812.6,849.6L1814.8,847.6L1817.0,845.5L1819.2,843.5L1821.4,841.5L1823.6,839.5L1825.8,837.4L1827.9,835.3L1830.0,833.1L1832.0,830.9L1833.9,828.6L1835.8,826.2L1837.6,823.8L1839.4,821.4L1841.1,819.0L1842.8,816.5L1844.5,814.0L1846.2,811.6L1847.9,809.1L1849.6,806.6L1851.3,804.1L1853.0,801.7L1854.7,799.2L1856.5,796.7L1858.2,794.3L1859.9,791.8L1861.6,789.4L1863.4,786.9L1865.1,784.5L1866.8,782.0L1868.5,779.6" fill="none" stroke="#007a3d" stroke-width="6.5" stroke-linecap="round" stroke-linejoin="round"/>
<path d="M196.9,1183.8L198.7,1186.2L200.5,1188.6L202.3,1191.0L204.1,1193.4L206.0,1195.7L208.1,1197.9L210.3,1199.9L212.6,1201.8L215.1,1203.5L217.6,1205.1L220.2,1206.6L222.9,1208.0L225.5,1209.4L228.2,1210.8L230.9,1212.1L233.6,1213.3L236.4,1214.4L239.2,1215.5L242.1,1216.4L245.0,1217.1L247.9,1217.8L250.9,1218.4L253.8,1218.9L256.8,1219.3L259.8,1219.7L262.8,1220.0L265.7,1220.3L268.7,1220.6L271.7,1220.8L274.7,1221.0L277.7,1221.2L280.7,1221.4L283.7,1221.5L286.7,1221.7L289.7,1221.8L292.7,1221.9L295.7,1222.0L298.7,1222.1L301.7,1222.2L304.7,1222.2L307.7,1222.3L310.7,1222.3L313.7,1222.4L316.7,1222.5L319.7,1222.5L322.7,1222.6L325.7,1222.6L328.7,1222.6L331.7,1222.7L334.7,1222.7L337.7,1222.7L340.7,1222.7L343.7,1222.7L346.7,1222.7L349.7,1222.7L352.7,1222.7L355.7,1222.6L358.7,1222.6L361.7,1222.5L364.7,1222.5L367.7,1222.4L370.7,1222.3L373.7,1222.2L376.7,1222.0L379.7,1221.9L382.7,1221.7L385.7,1221.6L388.7,1221.4L391.7,1221.2L394.6,1221.1L397.6,1220.9L400.6,1220.8L403.6,1220.6L406.6,1220.5L409.6,1220.4L412.6,1220.2L415.6,1220.1L418.6,1220.0L421.6,1219.9L424.6,1219.9L427.6,1219.8L430.6,1219.7L433.6,1219.6L436.6,1219.5L439.6,1219.4L442.6,1219.3L445.6,1219.2L448.6,1219.1L451.6,1219.0L454.6,1218.8L457.6,1218.7L460.6,1218.6L463.6,1218.5L466.6,1218.3L469.6,1217.9L472.5,1217.3L475.4,1216.6L478.3,1215.7L481.1,1214.7L483.9,1213.6L486.7,1212.4L489.4,1211.2L492.1,1210.0L494.9,1208.8L497.7,1207.6L500.4,1206.4L503.2,1205.2L505.9,1204.0L508.6,1202.7L511.4,1201.5L514.1,1200.4L516.9,1199.3L519.8,1198.4L522.7,1197.6L525.6,1197.0L528.6,1196.7L531.6,1196.6L534.6,1196.8L537.6,1197.3L540.5,1197.9L543.4,1198.7L546.2,1199.6L549.0,1200.8L551.7,1202.0L554.4,1203.4L557.0,1204.9L559.5,1206.6L562.0,1208.2L564.5,1209.9L567.0,1211.6L569.5,1213.2L572.0,1214.9L574.5,1216.5L577.1,1218.1L579.6,1219.7L582.1,1221.3L584.7,1222.9L587.2,1224.5L589.8,1226.0L592.4,1227.4L595.1,1228.8L597.8,1230.1L600.5,1231.4L603.3,1232.6L606.1,1233.6L609.0,1234.4L611.9,1235.0L614.9,1235.6L617.8,1236.0L620.8,1236.5L623.8,1236.9L626.7,1237.3L629.7,1237.6L632.7,1238.0L635.7,1238.3L638.7,1238.6L641.6,1239.0L644.6,1239.3L647.6,1239.6L650.6,1239.9L653.6,1240.1L656.6,1240.4L659.6,1240.7L662.5,1241.0L665.5,1241.3L668.5,1241.5L671.5,1241.8L674.5,1242.1L677.5,1242.4L680.5,1242.6L683.5,1242.9L686.5,1243.1L689.4,1243.4L692.4,1243.7L695.4,1243.9L698.4,1244.1L701.4,1244.4L704.4,1244.6L707.4,1244.8L710.4,1245.0L713.4,1245.3L716.4,1245.5L719.4,1245.7L722.3,1245.9L725.3,1246.1L728.3,1246.3L731.3,1246.4L734.3,1246.6L737.3,1246.8L740.3,1246.9L743.3,1247.1L746.3,1247.2L749.3,1247.4L752.3,1247.5L755.3,1247.6L758.3,1247.7L761.3,1247.9L764.3,1248.0L767.3,1248.1L770.3,1248.2L773.3,1248.3L776.3,1248.4L779.3,1248.5L782.3,1248.6L785.3,1248.7L788.3,1248.7L791.3,1248.8L794.3,1248.9L797.3,1249.0L800.3,1249.1L803.3,1249.2L806.3,1249.2L809.3,1249.3L812.3,1249.4L815.3,1249.5L818.3,1249.5L821.3,1249.6L824.3,1249.7L827.3,1249.7L830.3,1249.8L833.3,1249.8L836.3,1249.9L839.3,1249.9L842.3,1250.0L845.3,1250.0L848.3,1250.0L851.3,1250.1L854.3,1250.1L857.3,1250.1L860.3,1250.2L863.3,1250.2L866.3,1250.2L869.3,1250.2L872.3,1250.2L875.3,1250.2L878.3,1250.2L881.3,1250.2L884.3,1250.2L887.3,1250.2L890.3,1250.2L893.3,1250.1L896.3,1250.1L899.3,1250.1L902.3,1250.1L905.3,1250.1L908.3,1250.1L911.3,1250.1L914.3,1250.1L917.3,1250.1L920.3,1250.1L923.3,1250.1L926.3,1250.2L929.3,1250.2L932.3,1250.2L935.3,1250.2L938.3,1250.3L941.3,1250.3L944.3,1250.3L947.3,1250.3L950.3,1250.3L953.3,1250.3L956.3,1250.3L959.3,1250.3L962.3,1250.3L965.3,1250.2L968.3,1250.2L971.3,1250.1L974.3,1250.0L977.3,1250.0L980.3,1249.9L983.3,1249.8L986.3,1249.6L989.3,1249.5L992.2,1249.4L995.2,1249.2L998.2,1249.1L1001.2,1248.9L1004.2,1248.8L1007.2,1248.6L1010.2,1248.4L1013.2,1248.3L1016.2,1248.1L1019.2,1247.9L1022.2,1247.7L1025.2,1247.6L1028.2,1247.4L1031.2,1247.2L1034.2,1247.1L1037.2,1246.9L1040.2,1246.8L1043.2,1246.6L1046.2,1246.5L1049.2,1246.3L1052.2,1246.2L1055.2,1246.0L1058.2,1245.9L1061.2,1245.7L1064.1,1245.6L1067.1,1245.4L1070.1,1245.2L1073.1,1245.1L1076.1,1244.9L1079.1,1244.7L1082.1,1244.5L1085.1,1244.3L1088.1,1244.2L1091.1,1243.9L1094.1,1243.7L1097.1,1243.5L1100.1,1243.3L1103.1,1243.0L1106.1,1242.8L1109.0,1242.5L1112.0,1242.2L1115.0,1241.9L1118.0,1241.6L1121.0,1241.3L1124.0,1240.9L1126.9,1240.6L1129.9,1240.2L1132.9,1239.9L1135.9,1239.5L1138.8,1239.1L1141.8,1238.7L1144.8,1238.3L1147.8,1237.9L1150.7,1237.5L1153.7,1237.0L1156.7,1236.6L1159.6,1236.2L1162.6,1235.7L1165.6,1235.3L1168.5,1234.8L1171.5,1234.3L1174.5,1233.9L1177.4,1233.4L1180.4,1232.9L1183.3,1232.3L1186.3,1231.8L1189.2,1231.3L1192.2,1230.8L1195.1,1230.2L1198.1,1229.7L1201.0,1229.1L1204.0,1228.6L1206.9,1228.1L1209.9,1227.5L1212.9,1227.0L1215.8,1226.5L1218.8,1226.0L1221.7,1225.4L1224.7,1224.9L1227.6,1224.4L1230.6,1224.0L1233.6,1223.5L1236.5,1223.0L1239.5,1222.6L1242.4,1222.1L1245.4,1221.6L1248.4,1221.2L1251.3,1220.7L1254.3,1220.3L1257.3,1219.8L1260.2,1219.3L1263.2,1218.9L1266.2,1218.4L1269.1,1217.9L1272.1,1217.4L1275.0,1216.9L1278.0,1216.4L1280.9,1215.9L1283.9,1215.3L1286.8,1214.7L1289.8,1214.1L1292.7,1213.5L1295.6,1212.9L1298.6,1212.2L1301.5,1211.5L1304.4,1210.8L1307.3,1210.0L1310.2,1209.3L1313.1,1208.5L1316.0,1207.7L1318.9,1206.9L1321.8,1206.1L1324.6,1205.2L1327.5,1204.4L1330.4,1203.5L1333.3,1202.7L1336.2,1201.9L1339.1,1201.1L1341.9,1200.2L1344.8,1199.4L1347.7,1198.6L1350.6,1197.7L1353.5,1196.9L1356.4,1196.1L1359.2,1195.2L1362.1,1194.4L1365.0,1193.5L1367.9,1192.6L1370.7,1191.8L1373.6,1190.9L1376.5,1190.0L1379.3,1189.1L1382.2,1188.2L1385.1,1187.3L1387.9,1186.4L1390.8,1185.5L1393.6,1184.6L1396.5,1183.7L1399.3,1182.8L1402.2,1181.9L1405.0,1180.9L1407.9,1180.0L1410.7,1179.0L1413.6,1178.1L1416.4,1177.2L1419.3,1176.2L1422.1,1175.2L1425.0,1174.3L1427.8,1173.3L1430.6,1172.3L1433.5,1171.3L1436.3,1170.3L1439.1,1169.3L1441.9,1168.3L1444.8,1167.3L1447.6,1166.2L1450.4,1165.2L1453.2,1164.1L1456.0,1163.0L1458.8,1161.9L1461.5,1160.7L1464.3,1159.6L1467.1,1158.4L1469.8,1157.2L1472.5,1155.9L1475.3,1154.7L1478.0,1153.4L1480.7,1152.2L1483.4,1150.9L1486.1,1149.5L1488.8,1148.2L1491.5,1146.8L1494.1,1145.5L1496.8,1144.1L1499.4,1142.7L1502.1,1141.2L1504.7,1139.8L1507.3,1138.4L1510.0,1136.9L1512.6,1135.5L1515.2,1134.0L1517.8,1132.5L1520.4,1131.0L1523.0,1129.5L1525.6,1128.0L1528.2,1126.5L1530.7,1124.9L1533.3,1123.3L1535.8,1121.7L1538.3,1120.0L1540.7,1118.2L1543.1,1116.4L1545.5,1114.6L1547.7,1112.6L1550.0,1110.6L1552.2,1108.6L1554.3,1106.5L1556.5,1104.4L1558.6,1102.3L1560.8,1100.2L1562.9,1098.1L1565.1,1096.0L1567.2,1093.9L1569.3,1091.8L1571.5,1089.7L1573.6,1087.6L1575.7,1085.4L1577.8,1083.3L1579.9,1081.1L1582.0,1079.0L1584.1,1076.9L1586.2,1074.7L1588.3,1072.6L1590.4,1070.4L1592.5,1068.3L1594.6,1066.1L1596.6,1063.9L1598.7,1061.8L1600.9,1059.7L1603.0,1057.6L1605.2,1055.6L1607.5,1053.6L1609.7,1051.6L1612.1,1049.7L1614.4,1047.8L1616.8,1046.0L1619.2,1044.3L1621.7,1042.6L1624.2,1041.0L1626.8,1039.5L1629.5,1038.1L1632.3,1037.0L1635.1,1036.0L1638.0,1035.2L1640.9,1034.6L1643.9,1034.1L1646.9,1033.7L1649.9,1033.5L1652.9,1033.4L1655.9,1033.4L1658.9,1033.6L1661.8,1034.0L1664.8,1034.4L1667.8,1034.8L1670.8,1035.2L1673.7,1035.4L1676.7,1035.4L1679.7,1035.4L1682.7,1035.3L1685.7,1035.0L1688.7,1034.7L1691.7,1034.3L1694.6,1033.8L1697.6,1033.2L1700.5,1032.5L1703.4,1031.8L1706.3,1030.9L1709.1,1029.9L1711.9,1028.9L1714.7,1027.8L1717.5,1026.6L1720.2,1025.3L1722.8,1023.9L1725.4,1022.4L1728.0,1020.9L1730.6,1019.3L1733.1,1017.6L1735.5,1015.9L1738.0,1014.2L1740.4,1012.4L1742.8,1010.6L1745.1,1008.7L1747.4,1006.8L1749.7,1004.9L1752.0,1002.9L1754.3,1000.9L1756.5,998.9L1758.6,996.9L1760.8,994.8L1762.9,992.6L1765.0,990.5L1767.0,988.3L1769.1,986.1L1771.0,983.8L1773.0,981.5L1774.9,979.3L1776.9,976.9L1778.8,974.6L1780.6,972.3L1782.5,969.9L1784.3,967.6L1786.2,965.2L1788.0,962.8L1789.8,960.4L1791.6,958.0L1793.4,955.6L1795.2,953.2L1797.0,950.8L1798.7,948.3L1800.5,945.9L1802.2,943.4L1803.9,941.0L1805.6,938.5L1807.3,936.0L1809.0,933.5L1810.6,931.1L1812.3,928.6L1813.9,926.0L1815.6,923.5L1817.2,921.0L1818.8,918.5L1820.5,916.0L1822.1,913.4L1823.6,910.9L1825.2,908.3L1826.8,905.8L1828.3,903.2L1829.8,900.6L1831.3,898.0L1832.8,895.4L1834.3,892.8L1835.7,890.2L1837.1,887.5L1838.5,884.9L1839.9,882.2L1841.3,879.5L1842.6,876.8L1843.9,874.1L1845.2,871.4L1846.5,868.7L1847.8,866.0L1849.0,863.3L1850.3,860.5L1851.5,857.8L1852.7,855.0L1853.8,852.3L1855.0,849.5L1856.1,846.7L1857.3,844.0L1858.4,841.2L1859.5,838.4L1860.6,835.6L1861.7,832.8L1862.8,830.0L1863.9,827.2L1865.0,824.4L1866.1,821.7L1867.2,818.9L1868.3,816.1L1868.5,815.7" fill="none" stroke="#2546a2" stroke-width="6.5" stroke-linecap="round" stroke-linejoin="round"/>
<path d="M193.9,1322.3L196.6,1323.7L199.2,1325.1L201.9,1326.5L204.6,1327.8L207.3,1329.1L210.0,1330.3L212.8,1331.4L215.7,1332.3L218.5,1333.2L221.4,1334.0L224.3,1334.8L227.2,1335.5L230.2,1336.2L233.1,1336.8L236.0,1337.3L239.0,1337.8L242.0,1338.3L244.9,1338.7L247.9,1339.1L250.9,1339.5L253.9,1339.8L256.9,1340.2L259.8,1340.4L262.8,1340.7L265.8,1341.0L268.8,1341.2L271.8,1341.5L274.8,1341.7L277.8,1341.9L280.8,1342.1L283.8,1342.2L286.8,1342.4L289.8,1342.5L292.8,1342.6L295.8,1342.7L298.8,1342.8L301.8,1342.8L304.8,1342.8L307.8,1342.8L310.8,1342.8L313.8,1342.8L316.8,1342.7L319.8,1342.7L322.8,1342.7L325.8,1342.6L328.8,1342.6L331.8,1342.5L334.8,1342.5L337.8,1342.5L340.8,1342.4L343.8,1342.4L346.8,1342.4L349.8,1342.3L352.8,1342.3L355.8,1342.3L358.8,1342.2L361.8,1342.1L364.8,1342.1L367.8,1342.0L370.8,1341.9L373.7,1341.8L376.7,1341.7L379.7,1341.5L382.7,1341.4L385.7,1341.3L388.7,1341.1L391.7,1340.9L394.7,1340.7L397.7,1340.4L400.7,1340.0L403.6,1339.6L406.6,1339.0L409.5,1338.4L412.4,1337.6L415.3,1336.7L418.1,1335.7L420.9,1334.6L423.7,1333.5L426.5,1332.4L429.3,1331.3L432.1,1330.3L434.9,1329.3L437.8,1328.3L440.7,1327.5L443.5,1326.7L446.4,1325.9L449.3,1325.2L452.3,1324.5L455.2,1323.8L458.1,1323.3L461.1,1322.8L464.1,1322.4L467.1,1322.2L470.1,1322.2L473.1,1322.3L476.0,1322.8L478.9,1323.5L481.8,1324.4L484.6,1325.5L487.4,1326.6L490.1,1327.9L492.8,1329.2L495.5,1330.5L498.2,1331.9L500.9,1333.2L503.5,1334.6L506.2,1335.9L509.0,1337.1L511.7,1338.3L514.5,1339.4L517.3,1340.5L520.1,1341.6L522.9,1342.6L525.7,1343.6L528.6,1344.6L531.5,1345.5L534.3,1346.3L537.2,1347.1L540.1,1347.9L543.0,1348.6L545.9,1349.3L548.9,1350.0L551.8,1350.7L554.7,1351.3L557.7,1352.0L560.6,1352.6L563.5,1353.2L566.5,1353.7L569.4,1354.3L572.4,1354.9L575.3,1355.4L578.3,1355.9L581.2,1356.4L584.2,1356.9L587.2,1357.4L590.1,1357.8L593.1,1358.1L596.1,1358.4L599.1,1358.5L602.1,1358.7L605.1,1358.8L608.1,1359.0L611.1,1359.3L614.1,1359.6L617.0,1360.0L620.0,1360.4L623.0,1360.8L625.9,1361.2L628.9,1361.6L631.9,1362.0L634.9,1362.5L637.8,1362.9L640.8,1363.4L643.8,1363.8L646.7,1364.3L649.7,1364.7L652.7,1365.1L655.6,1365.6L658.6,1366.0L661.6,1366.4L664.5,1366.8L667.5,1367.2L670.5,1367.6L673.5,1368.0L676.4,1368.3L679.4,1368.7L682.4,1369.0L685.4,1369.3L688.4,1369.7L691.3,1370.0L694.3,1370.3L697.3,1370.6L700.3,1370.9L703.3,1371.2L706.3,1371.5L709.3,1371.8L712.2,1372.1L715.2,1372.4L718.2,1372.7L721.2,1372.9L724.2,1373.2L727.2,1373.4L730.2,1373.7L733.2,1373.9L736.2,1374.2L739.1,1374.4L742.1,1374.6L745.1,1374.8L748.1,1375.0L751.1,1375.2L754.1,1375.4L757.1,1375.6L760.1,1375.8L763.1,1376.0L766.1,1376.1L769.1,1376.3L772.1,1376.5L775.1,1376.6L778.1,1376.8L781.1,1377.0L784.1,1377.1L787.1,1377.3L790.1,1377.4L793.0,1377.6L796.0,1377.7L799.0,1377.9L802.0,1378.0L805.0,1378.2L808.0,1378.3L811.0,1378.4L814.0,1378.6L817.0,1378.7L820.0,1378.8L823.0,1379.0L826.0,1379.1L829.0,1379.2L832.0,1379.3L835.0,1379.4L838.0,1379.5L841.0,1379.6L844.0,1379.7L847.0,1379.8L850.0,1379.9L853.0,1380.0L856.0,1380.1L859.0,1380.1L862.0,1380.2L865.0,1380.2L868.0,1380.3L871.0,1380.3L874.0,1380.4L877.0,1380.4L880.0,1380.4L883.0,1380.4L886.0,1380.5L889.0,1380.5L892.0,1380.5L895.0,1380.5L898.0,1380.5L901.0,1380.5L904.0,1380.6L907.0,1380.6L910.0,1380.6L913.0,1380.6L916.0,1380.6L919.0,1380.6L922.0,1380.7L925.0,1380.7L928.0,1380.7L931.0,1380.7L934.0,1380.7L937.0,1380.7L940.0,1380.8L943.0,1380.8L946.0,1380.8L949.0,1380.8L952.0,1380.8L955.0,1380.8L958.0,1380.8L961.0,1380.7L964.0,1380.7L967.0,1380.7L970.0,1380.6L973.0,1380.6L976.0,1380.5L979.0,1380.4L982.0,1380.3L985.0,1380.2L988.0,1380.1L991.0,1379.9L994.0,1379.8L997.0,1379.6L1000.0,1379.5L1003.0,1379.3L1006.0,1379.1L1009.0,1378.9L1011.9,1378.8L1014.9,1378.6L1017.9,1378.5L1020.9,1378.3L1023.9,1378.1L1026.9,1378.0L1029.9,1377.8L1032.9,1377.6L1035.9,1377.4L1038.9,1377.3L1041.9,1377.1L1044.9,1376.9L1047.9,1376.7L1050.9,1376.6L1053.9,1376.4L1056.9,1376.2L1059.9,1376.1L1062.9,1375.9L1065.9,1375.8L1068.9,1375.6L1071.9,1375.4L1074.9,1375.3L1077.8,1375.1L1080.8,1374.9L1083.8,1374.8L1086.8,1374.6L1089.8,1374.4L1092.8,1374.2L1095.8,1374.0L1098.8,1373.8L1101.8,1373.6L1104.8,1373.4L1107.8,1373.2L1110.8,1372.9L1113.8,1372.7L1116.8,1372.5L1119.7,1372.2L1122.7,1372.0L1125.7,1371.8L1128.7,1371.5L1131.7,1371.3L1134.7,1371.0L1137.7,1370.7L1140.7,1370.5L1143.7,1370.2L1146.6,1369.9L1149.6,1369.6L1152.6,1369.3L1155.6,1369.0L1158.6,1368.6L1161.6,1368.3L1164.5,1367.9L1167.5,1367.6L1170.5,1367.2L1173.5,1366.7L1176.4,1366.3L1179.4,1365.9L1182.4,1365.4L1185.3,1364.9L1188.3,1364.4L1191.2,1364.0L1194.2,1363.5L1197.2,1363.0L1200.1,1362.5L1203.1,1362.0L1206.0,1361.6L1209.0,1361.1L1212.0,1360.7L1215.0,1360.2L1217.9,1359.8L1220.9,1359.5L1223.9,1359.1L1226.9,1358.8L1229.8,1358.4L1232.8,1358.1L1235.8,1357.9L1238.8,1357.6L1241.8,1357.4L1244.8,1357.1L1247.8,1356.9L1250.8,1356.7L1253.8,1356.5L1256.8,1356.2L1259.7,1356.0L1262.7,1355.8L1265.7,1355.6L1268.7,1355.3L1271.7,1355.1L1274.7,1354.8L1277.7,1354.5L1280.7,1354.2L1283.6,1353.9L1286.6,1353.5L1289.6,1353.1L1292.6,1352.7L1295.5,1352.3L1298.5,1351.9L1301.5,1351.5L1304.5,1351.0L1307.4,1350.6L1310.4,1350.1L1313.3,1349.6L1316.3,1349.1L1319.3,1348.6L1322.2,1348.1L1325.2,1347.6L1328.1,1347.1L1331.1,1346.5L1334.0,1346.0L1337.0,1345.4L1339.9,1344.8L1342.9,1344.2L1345.8,1343.7L1348.7,1343.1L1351.7,1342.4L1354.6,1341.8L1357.5,1341.2L1360.5,1340.6L1363.4,1339.9L1366.3,1339.2L1369.2,1338.5L1372.2,1337.8L1375.1,1337.1L1378.0,1336.4L1380.9,1335.7L1383.8,1334.9L1386.7,1334.2L1389.6,1333.4L1392.5,1332.7L1395.4,1331.9L1398.3,1331.1L1401.2,1330.4L1404.1,1329.6L1407.0,1328.9L1409.9,1328.1L1412.8,1327.3L1415.7,1326.6L1418.6,1325.9L1421.5,1325.1L1424.5,1324.4L1427.4,1323.7L1430.3,1322.9L1433.2,1322.2L1436.1,1321.5L1439.0,1320.7L1441.9,1320.0L1444.8,1319.3L1447.7,1318.6L1450.6,1317.8L1453.6,1317.1L1456.5,1316.4L1459.4,1315.7L1462.3,1314.9L1465.2,1314.2L1468.1,1313.5L1471.0,1312.8L1473.9,1312.0L1476.8,1311.3L1479.8,1310.6L1482.7,1309.9L1485.6,1309.1L1488.5,1308.4L1491.4,1307.7L1494.3,1307.0L1497.2,1306.2L1500.1,1305.5L1503.1,1304.8L1506.0,1304.1L1508.9,1303.4L1511.8,1302.7L1514.7,1302.0L1517.6,1301.3L1520.5,1300.6L1523.5,1299.8L1526.4,1299.1L1529.3,1298.4L1532.2,1297.7L1535.1,1297.0L1538.0,1296.2L1540.9,1295.5L1543.8,1294.8L1546.7,1294.0L1549.6,1293.2L1552.5,1292.5L1555.4,1291.7L1558.3,1290.9L1561.2,1290.1L1564.1,1289.2L1567.0,1288.4L1569.8,1287.5L1572.7,1286.6L1575.6,1285.7L1578.4,1284.8L1581.3,1283.9L1584.2,1283.0L1587.0,1282.1L1589.9,1281.2L1592.7,1280.4L1595.6,1279.5L1598.5,1278.7L1601.4,1277.8L1604.3,1277.0L1607.2,1276.3L1610.1,1275.6L1613.0,1274.9L1615.9,1274.2L1618.9,1273.5L1621.8,1272.8L1624.7,1272.2L1627.6,1271.6L1630.6,1270.9L1633.5,1270.3L1636.4,1269.6L1639.4,1269.0L1642.3,1268.3L1645.2,1267.6L1648.1,1266.9L1651.0,1266.2L1653.9,1265.4L1656.8,1264.6L1659.7,1263.8L1662.6,1262.9L1665.4,1262.0L1668.3,1261.1L1671.1,1260.1L1674.0,1259.1L1676.8,1258.1L1679.6,1257.0L1682.3,1255.9L1685.1,1254.7L1687.8,1253.4L1690.6,1252.2L1693.3,1250.9L1696.0,1249.6L1698.7,1248.2L1701.3,1246.9L1704.0,1245.4L1706.6,1244.0L1709.2,1242.5L1711.8,1241.0L1714.3,1239.4L1716.9,1237.8L1719.4,1236.1L1721.8,1234.4L1724.3,1232.7L1726.7,1230.9L1729.0,1229.0L1731.4,1227.2L1733.7,1225.3L1736.0,1223.3L1738.3,1221.4L1740.6,1219.5L1742.9,1217.5L1745.2,1215.6L1747.5,1213.7L1749.8,1211.8L1752.2,1210.0L1754.6,1208.1L1757.0,1206.3L1759.4,1204.5L1761.8,1202.8L1764.2,1201.0L1766.6,1199.2L1769.1,1197.5L1771.5,1195.7L1773.9,1194.0L1776.4,1192.2L1778.8,1190.4L1781.2,1188.7L1783.6,1186.9L1786.0,1185.1L1788.4,1183.3L1790.8,1181.5L1793.2,1179.6L1795.5,1177.7L1797.8,1175.8L1800.1,1173.8L1802.3,1171.8L1804.5,1169.8L1806.6,1167.7L1808.7,1165.5L1810.7,1163.3L1812.7,1161.0L1814.6,1158.7L1816.5,1156.4L1818.3,1154.0L1820.2,1151.7L1822.1,1149.3L1823.9,1147.0L1825.8,1144.6L1827.7,1142.3L1829.5,1139.9L1831.3,1137.5L1833.1,1135.1L1834.8,1132.6L1836.6,1130.2L1838.3,1127.7L1839.9,1125.2L1841.6,1122.7L1843.2,1120.2L1844.8,1117.7L1846.3,1115.1L1847.8,1112.5L1849.3,1109.9L1850.8,1107.3L1852.2,1104.6L1853.7,1102.0L1855.1,1099.4L1856.5,1096.7L1857.9,1094.1L1859.3,1091.4L1860.7,1088.7L1862.1,1086.1L1863.5,1083.4L1864.9,1080.8L1866.3,1078.1L1867.4,1076.0" fill="none" stroke="#f37521" stroke-width="6.5" stroke-linecap="round" stroke-linejoin="round"/>
<path d="M196.3,2183.6L198.7,2185.4L201.1,2187.3L203.4,2189.1L205.9,2190.9L208.3,2192.6L210.7,2194.3L213.3,2196.0L215.8,2197.6L218.3,2199.2L220.9,2200.8L223.4,2202.3L226.0,2203.9L228.6,2205.4L231.2,2206.9L233.8,2208.3L236.5,2209.7L239.2,2211.0L241.9,2212.3L244.7,2213.4L247.5,2214.4L250.4,2215.3L253.3,2216.1L256.2,2216.8L259.1,2217.3L262.1,2217.8L265.1,2218.3L268.1,2218.7L271.0,2219.0L274.0,2219.3L277.0,2219.5L280.0,2219.7L283.0,2219.8L286.0,2219.9L289.0,2220.0L292.0,2220.0L295.0,2220.0L298.0,2219.9L301.0,2219.8L304.0,2219.7L307.0,2219.5L310.0,2219.3L313.0,2218.9L315.9,2218.5L318.9,2218.0L321.8,2217.4L324.7,2216.7L327.7,2216.0L330.6,2215.4L333.5,2214.7L336.5,2214.1L339.4,2213.5L342.4,2213.0L345.3,2212.5L348.3,2212.0L351.2,2211.5L354.2,2211.0L357.2,2210.6L360.1,2210.1L363.1,2209.7L366.1,2209.2L369.0,2208.8L372.0,2208.4L375.0,2207.9L377.9,2207.5L380.9,2207.1L383.9,2206.7L386.8,2206.3L389.8,2205.9L392.8,2205.5L395.8,2205.1L398.7,2204.7L401.7,2204.3L404.7,2203.9L407.7,2203.6L410.6,2203.2L413.6,2202.8L416.6,2202.4L419.6,2202.0L422.5,2201.6L425.5,2201.2L428.5,2200.8L431.5,2200.4L434.4,2200.0L437.4,2199.5L440.4,2199.1L443.3,2198.6L446.3,2198.2L449.2,2197.7L452.2,2197.1L455.2,2196.6L458.1,2196.0L461.1,2195.5L464.0,2194.9L466.9,2194.3L469.9,2193.7L472.8,2193.2L475.8,2192.6L478.7,2192.0L481.6,2191.4L484.6,2190.8L487.5,2190.2L490.5,2189.6L493.4,2189.0L496.3,2188.4L499.3,2187.8L502.2,2187.2L505.2,2186.6L508.1,2185.9L511.0,2185.3L514.0,2184.7L516.9,2184.1L519.8,2183.5L522.8,2182.8L525.7,2182.2L528.6,2181.7L531.6,2181.1L534.5,2180.5L537.5,2180.0L540.4,2179.4L543.4,2178.9L546.4,2178.5L549.3,2178.0L552.3,2177.5L555.3,2177.1L558.2,2176.7L561.2,2176.3L564.2,2175.8L567.1,2175.5L570.1,2175.1L573.1,2174.7L576.1,2174.4L579.1,2174.0L582.0,2173.7L585.0,2173.4L588.0,2173.1L591.0,2172.9L594.0,2172.7L597.0,2172.6L600.0,2172.5L603.0,2172.5L606.0,2172.5L609.0,2172.5L612.0,2172.5L615.0,2172.5L618.0,2172.5L621.0,2172.4L624.0,2172.4L627.0,2172.3L630.0,2172.3L633.0,2172.3L636.0,2172.4L639.0,2172.6L642.0,2172.8L645.0,2173.2L647.9,2173.6L650.9,2174.1L653.8,2174.8L656.7,2175.4L659.6,2176.2L662.5,2176.9L665.4,2177.8L668.3,2178.6L671.2,2179.5L674.0,2180.4L676.9,2181.4L679.7,2182.4L682.5,2183.5L685.3,2184.6L688.1,2185.7L690.8,2186.9L693.6,2188.0L696.4,2189.2L699.1,2190.4L701.9,2191.5L704.7,2192.6L707.5,2193.8L710.2,2194.9L713.0,2196.0L715.8,2197.1L718.6,2198.2L721.4,2199.3L724.2,2200.4L727.0,2201.5L729.8,2202.6L732.5,2203.8L735.3,2204.9L738.1,2206.0L740.9,2207.2L743.6,2208.4L746.3,2209.7L749.0,2211.0L751.7,2212.3L754.5,2213.5L757.3,2214.4L760.2,2215.2L763.2,2215.8L766.1,2216.3L769.1,2216.6L772.1,2216.7L775.1,2216.7L778.1,2216.4L781.0,2215.9L783.9,2214.9L786.5,2213.5L789.0,2211.7L791.2,2209.8L793.3,2207.6L795.4,2205.4L797.3,2203.1L799.1,2200.7L800.8,2198.3L802.4,2195.8L804.0,2193.2L805.5,2190.6L806.9,2188.0L808.3,2185.3L809.6,2182.6L810.9,2179.9L812.0,2177.1L813.1,2174.3L814.1,2171.5L815.1,2168.6L816.1,2165.8L817.1,2163.0L818.0,2160.1L819.0,2157.3L819.9,2154.4L820.8,2151.6L821.7,2148.7L822.5,2145.8L823.3,2142.9L824.1,2140.0L824.8,2137.1L825.4,2134.2L826.1,2131.3L826.7,2128.3L827.3,2125.4L827.9,2122.4L828.5,2119.5L829.1,2116.6L829.7,2113.6L830.4,2110.7L831.0,2107.8L831.7,2104.8L832.3,2101.9L833.0,2099.0L833.6,2096.0L834.3,2093.1L834.9,2090.2L835.5,2087.2L836.1,2084.3L836.7,2081.4L837.3,2078.4L837.9,2075.5L838.4,2072.5L838.9,2069.6L839.5,2066.6L840.0,2063.7L840.5,2060.7L841.0,2057.8L841.6,2054.8L842.1,2051.9L842.7,2048.9L843.3,2046.0L843.9,2043.0L844.5,2040.1L845.1,2037.2L845.7,2034.2L846.3,2031.3L846.9,2028.4L847.6,2025.4L848.2,2022.5L848.8,2019.6L849.5,2016.6L850.1,2013.7L850.8,2010.8L851.4,2007.8L852.1,2004.9L852.7,2002.0L853.4,1999.1L854.1,1996.1L854.8,1993.2L855.5,1990.3L856.2,1987.4L856.9,1984.5L857.6,1981.5L858.3,1978.6L859.0,1975.7L859.7,1972.8L860.5,1969.9L861.3,1967.0L862.1,1964.1L863.1,1961.3L864.1,1958.5L865.3,1955.7L866.6,1953.0L868.3,1950.6L870.8,1949.0L873.7,1949.5L876.0,1951.4L877.9,1953.8L879.5,1956.3L880.8,1959.0L881.9,1961.8L882.9,1964.7L883.7,1967.5L884.5,1970.4L885.2,1973.3L885.9,1976.3L886.6,1979.2L887.2,1982.1L887.9,1985.0L888.5,1988.0L889.1,1990.9L889.7,1993.9L890.3,1996.8L890.8,1999.7L891.4,2002.7L891.9,2005.6L892.4,2008.6L892.9,2011.6L893.4,2014.5L893.9,2017.5L894.3,2020.5L894.7,2023.4L895.1,2026.4L895.5,2029.4L895.9,2032.4L896.3,2035.3L896.6,2038.3L897.0,2041.3L897.4,2044.3L897.8,2047.2L898.2,2050.2L898.5,2053.2L898.9,2056.2L899.3,2059.1L899.7,2062.1L900.1,2065.1L900.5,2068.1L900.9,2071.0L901.3,2074.0L901.7,2077.0L902.1,2080.0L902.4,2082.9L902.8,2085.9L903.2,2088.9L903.6,2091.9L904.0,2094.8L904.4,2097.8L904.8,2100.8L905.2,2103.7L905.6,2106.7L906.1,2109.7L906.6,2112.6L907.1,2115.6L907.6,2118.6L908.1,2121.5L908.6,2124.5L909.2,2127.4L909.7,2130.4L910.2,2133.3L910.8,2136.3L911.3,2139.2L911.9,2142.2L912.4,2145.1L912.9,2148.1L913.5,2151.0L914.0,2154.0L914.6,2156.9L915.1,2159.9L915.7,2162.8L916.3,2165.8L916.8,2168.7L917.4,2171.6L918.0,2174.6L918.6,2177.5L919.3,2180.5L919.9,2183.4L920.5,2186.3L921.2,2189.3L921.8,2192.2L922.5,2195.1L923.2,2198.0L923.9,2200.9L924.7,2203.8L925.5,2206.7L926.3,2209.6L927.2,2212.5L928.1,2215.3L929.0,2218.2L930.0,2221.0L931.0,2223.9L932.0,2226.7L933.0,2229.5L934.1,2232.3L935.2,2235.1L936.4,2237.8L937.7,2240.6L939.0,2243.3L940.3,2245.9L941.8,2248.6L943.3,2251.2L944.8,2253.7L946.5,2256.3L948.1,2258.7L949.9,2261.2L951.7,2263.6L953.6,2265.9L955.6,2268.1L957.6,2270.3L959.7,2272.5L961.9,2274.6L964.1,2276.6L966.4,2278.5L968.8,2280.3L971.3,2282.1L973.8,2283.7L976.3,2285.2L979.0,2286.7L981.6,2288.1L984.3,2289.4L987.1,2290.5L989.9,2291.6L992.8,2292.5L995.6,2293.3L998.5,2294.1L1001.4,2294.9L1004.3,2295.7L1007.2,2296.5L1010.1,2297.3L1013.0,2298.0L1015.9,2298.8L1018.8,2299.6L1021.7,2300.3L1024.6,2301.0L1027.6,2301.7L1030.5,2302.4L1033.4,2303.0L1036.4,2303.6L1039.3,2304.2L1042.2,2304.8L1045.2,2305.3L1048.1,2305.9L1051.1,2306.4L1054.1,2306.9L1057.0,2307.4L1060.0,2307.8L1062.9,2308.3L1065.9,2308.7L1068.9,2309.1L1071.9,2309.4L1074.9,2309.7L1077.9,2309.9L1080.8,2310.2L1083.8,2310.4L1086.8,2310.7L1089.8,2311.0L1092.8,2311.4L1095.8,2311.7L1098.7,2312.1L1101.7,2312.5L1104.7,2312.9L1107.7,2313.3L1110.6,2313.7L1113.6,2314.1L1116.6,2314.5L1119.6,2314.8L1122.5,2315.2L1125.5,2315.5L1128.5,2315.8L1131.5,2316.1L1134.5,2316.4L1137.5,2316.6L1140.5,2316.9L1143.4,2317.1L1146.4,2317.3L1149.4,2317.5L1152.4,2317.6L1155.4,2317.8L1158.4,2317.9L1161.4,2318.0L1164.4,2318.1L1167.4,2318.2L1170.4,2318.3L1173.4,2318.4L1176.4,2318.4L1179.4,2318.5L1182.4,2318.6L1185.4,2318.6L1188.4,2318.6L1191.4,2318.7L1194.4,2318.7L1197.4,2318.7L1200.4,2318.7L1203.4,2318.7L1206.4,2318.7L1209.4,2318.7L1212.4,2318.7L1215.4,2318.7L1218.4,2318.7L1221.4,2318.7L1224.4,2318.7L1227.4,2318.6L1230.4,2318.6L1233.4,2318.6L1236.4,2318.5L1239.4,2318.5L1242.4,2318.4L1245.4,2318.4L1248.4,2318.4L1251.4,2318.3L1254.4,2318.3L1257.4,2318.2L1260.4,2318.2L1263.4,2318.1L1266.4,2318.0L1269.4,2317.9L1272.4,2317.8L1275.4,2317.7L1278.4,2317.6L1281.4,2317.4L1284.4,2317.2L1287.4,2317.0L1290.4,2316.7L1293.4,2316.4L1296.3,2316.1L1299.3,2315.6L1302.3,2315.1L1305.2,2314.6L1308.1,2313.9L1311.0,2313.2L1313.9,2312.4L1316.8,2311.6L1319.7,2310.8L1322.6,2310.0L1325.5,2309.1L1328.3,2308.2L1331.2,2307.2L1334.0,2306.3L1336.8,2305.2L1339.6,2304.1L1342.4,2303.0L1345.2,2301.9L1347.9,2300.6L1350.6,2299.4L1353.3,2298.0L1356.0,2296.6L1358.6,2295.1L1361.2,2293.6L1363.8,2292.1L1366.3,2290.6L1368.9,2289.0L1371.5,2287.5L1374.1,2286.0L1376.7,2284.5L1379.3,2283.0L1381.9,2281.6L1384.5,2280.1L1387.2,2278.7L1389.8,2277.2L1392.4,2275.8L1395.1,2274.4L1397.8,2273.1L1400.6,2271.9L1403.3,2270.8L1406.2,2269.9L1409.1,2269.1L1412.0,2268.5L1415.0,2268.0L1418.0,2267.6L1421.0,2267.4L1423.9,2267.2L1426.9,2267.1L1429.9,2267.1L1432.9,2267.2L1435.9,2267.4L1438.9,2267.8L1441.9,2268.3L1444.8,2269.0L1447.7,2269.8L1450.5,2270.7L1453.3,2271.8L1456.1,2272.9L1458.9,2274.1L1461.6,2275.3L1464.4,2276.5L1467.1,2277.8L1469.8,2279.0L1472.5,2280.3L1475.3,2281.5L1478.0,2282.7L1480.7,2284.0L1483.5,2285.2L1486.2,2286.5L1488.9,2287.8L1491.6,2289.0L1494.3,2290.3L1497.1,2291.5L1499.8,2292.7L1502.6,2293.8L1505.4,2294.9L1508.3,2295.8L1511.2,2296.6L1514.1,2297.4L1517.0,2298.0L1519.9,2298.6L1522.9,2299.1L1525.9,2299.6L1528.8,2299.9L1531.8,2300.3L1534.8,2300.6L1537.8,2300.8L1540.8,2301.1L1543.8,2301.2L1546.8,2301.3L1549.8,2301.3L1552.8,2301.3L1555.8,2301.3L1558.8,2301.2L1561.8,2301.1L1564.8,2301.0L1567.8,2300.9L1570.8,2300.8L1573.8,2300.6L1576.8,2300.4L1579.8,2300.2L1582.7,2299.9L1585.7,2299.5L1588.7,2299.1L1591.7,2298.6L1594.6,2298.1L1597.6,2297.6L1600.5,2297.0L1603.5,2296.4L1606.4,2295.8L1609.3,2295.2L1612.3,2294.6L1615.2,2293.9L1618.1,2293.3L1621.0,2292.6L1624.0,2291.9L1626.9,2291.2L1629.8,2290.5L1632.7,2289.8L1635.6,2289.1L1638.5,2288.4L1641.5,2287.7L1644.4,2287.0L1647.3,2286.2L1650.2,2285.5L1653.1,2284.7L1656.0,2283.9L1658.9,2283.1L1661.8,2282.3L1664.7,2281.6L1667.5,2280.8L1670.4,2279.9L1673.3,2279.1L1676.2,2278.3L1679.1,2277.5L1682.0,2276.6L1684.8,2275.7L1687.7,2274.9L1690.6,2273.9L1693.4,2273.0L1696.3,2272.1L1699.1,2271.1L1701.9,2270.1L1704.7,2269.1L1707.6,2268.0L1710.4,2267.0L1713.2,2265.9L1716.0,2264.8L1718.8,2263.7L1721.5,2262.6L1724.3,2261.5L1727.1,2260.3L1729.8,2259.1L1732.6,2257.9L1735.3,2256.7L1738.1,2255.5L1740.8,2254.3L1743.6,2253.0L1746.3,2251.8L1749.0,2250.5L1751.7,2249.3L1754.4,2248.0L1757.1,2246.7L1759.8,2245.3L1762.5,2244.0L1765.2,2242.6L1767.8,2241.2L1770.5,2239.8L1773.1,2238.4L1775.7,2236.9L1778.4,2235.5L1780.9,2234.0L1783.5,2232.4L1786.1,2230.9L1788.7,2229.3L1791.2,2227.7L1793.7,2226.1L1796.3,2224.5L1798.8,2222.9L1801.3,2221.2L1803.8,2219.6L1806.3,2217.9L1808.7,2216.2L1811.2,2214.5L1813.7,2212.8L1816.1,2211.1L1818.6,2209.3L1821.0,2207.5L1823.4,2205.7L1825.8,2203.9L1828.1,2202.1L1830.5,2200.2L1832.8,2198.3L1835.1,2196.4L1837.5,2194.5L1839.8,2192.6L1842.1,2190.7L1844.4,2188.7L1846.7,2186.8L1849.0,2184.9L1851.3,2183.0L1853.6,2181.0L1855.9,2179.1L1858.1,2177.2L1860.4,2175.2L1862.7,2173.2L1865.0,2171.3L1867.2,2169.3L1868.9,2167.9" fill="none" stroke="#000000" stroke-width="6.5" stroke-linecap="round" stroke-linejoin="round"/>
<path d="M195.4,2518.6L198.4,2518.9L201.4,2519.2L204.4,2519.5L207.4,2519.7L210.4,2519.7L213.3,2519.5L216.3,2519.1L219.2,2518.4L222.1,2517.5L224.9,2516.5L227.7,2515.4L230.5,2514.4L233.4,2513.4L236.3,2512.6L239.2,2511.8L242.1,2511.1L245.0,2510.3L247.9,2509.7L250.8,2509.1L253.8,2508.5L256.7,2508.0L259.7,2507.6L262.7,2507.3L265.7,2507.2L268.7,2507.4L271.6,2508.1L274.5,2509.0L277.3,2510.1L280.0,2511.3L282.7,2512.7L285.3,2514.1L288.0,2515.5L290.6,2516.9L293.3,2518.2L296.0,2519.6L298.7,2520.8L301.5,2522.0L304.3,2523.1L307.1,2524.1L310.0,2525.0L312.8,2525.8L315.7,2526.6L318.7,2527.2L321.6,2527.8L324.6,2528.4L327.5,2528.8L330.5,2529.3L333.5,2529.6L336.5,2530.0L339.4,2530.2L342.4,2530.5L345.4,2530.7L348.4,2530.9L351.4,2531.1L354.4,2531.2L357.4,2531.3L360.4,2531.5L363.4,2531.6L366.4,2531.7L369.4,2531.8L372.4,2531.8L375.4,2531.9L378.4,2532.0L381.4,2532.0L384.4,2532.1L387.4,2532.0L390.4,2532.0L393.4,2532.0L396.4,2531.9L399.4,2531.8L402.4,2531.8L405.4,2531.7L408.4,2531.7L411.4,2531.7L414.4,2531.7L417.4,2531.8L420.4,2531.9L423.4,2532.0L426.4,2532.3L429.4,2532.5L432.3,2532.9L435.3,2533.2L438.3,2533.6L441.3,2534.1L444.2,2534.5L447.2,2534.9L450.2,2535.4L453.1,2535.8L456.1,2536.2L459.1,2536.6L462.1,2536.9L465.1,2537.2L468.1,2537.4L471.0,2537.5L474.0,2537.6L477.0,2537.7L480.0,2537.7L483.0,2537.7L486.0,2537.7L489.0,2537.7L492.0,2537.7L495.0,2537.6L498.0,2537.5L501.0,2537.5L504.0,2537.4L507.0,2537.4L510.0,2537.4L513.0,2537.4L516.0,2537.5L519.0,2537.6L522.0,2537.6L525.0,2537.8L528.0,2537.9L531.0,2538.0L534.0,2538.2L537.0,2538.3L540.0,2538.5L543.0,2538.8L546.0,2539.0L549.0,2539.3L552.0,2539.5L555.0,2539.4L558.0,2539.2L560.9,2538.8L563.9,2538.1L566.7,2537.2L569.4,2536.0L572.0,2534.4L574.3,2532.5L576.5,2530.4L578.5,2528.2L580.5,2526.0L582.4,2523.6L584.2,2521.3L586.0,2518.8L587.6,2516.3L589.1,2513.7L590.5,2511.0L591.6,2508.3L592.7,2505.5L593.6,2502.6L594.5,2499.7L595.3,2496.9L596.1,2494.0L596.8,2491.1L597.6,2488.1L598.3,2485.2L599.0,2482.3L599.7,2479.4L600.5,2476.5L601.3,2473.6L602.0,2470.7L602.8,2467.8L603.5,2464.9L604.2,2462.0L604.9,2459.1L605.6,2456.1L606.3,2453.2L606.9,2450.3L607.6,2447.4L608.2,2444.4L608.7,2441.5L609.3,2438.5L609.9,2435.6L610.5,2432.6L611.0,2429.7L611.6,2426.7L612.2,2423.8L612.8,2420.9L613.4,2417.9L614.0,2415.0L614.6,2412.0L615.1,2409.1L615.7,2406.2L616.3,2403.2L616.9,2400.3L617.5,2397.3L618.1,2394.4L618.7,2391.4L619.3,2388.5L619.8,2385.6L620.4,2382.6L621.0,2379.7L621.5,2376.7L622.1,2373.8L622.6,2370.8L623.1,2367.9L623.6,2364.9L624.1,2361.9L624.6,2359.0L625.1,2356.0L625.6,2353.1L626.3,2350.1L627.0,2347.2L628.2,2344.5L629.9,2342.0L631.5,2339.5L632.5,2336.7L633.2,2333.7L633.7,2330.8L634.2,2327.8L634.7,2324.9L635.3,2321.9L635.9,2319.0L636.5,2316.0L637.1,2313.1L637.7,2310.2L638.2,2307.2L638.8,2304.3L639.4,2301.3L640.0,2298.4L640.6,2295.4L641.2,2292.5L641.8,2289.6L642.4,2286.6L643.1,2283.7L643.8,2280.8L644.6,2277.9L645.5,2275.1L646.6,2272.2L647.7,2269.5L649.0,2266.8L650.4,2264.1L652.0,2261.6L653.9,2259.3L656.3,2257.5L659.1,2256.6L662.1,2257.1L664.6,2258.6L666.6,2260.9L668.1,2263.4L669.4,2266.2L670.5,2269.0L671.4,2271.8L672.2,2274.7L672.9,2277.6L673.6,2280.5L674.3,2283.4L675.0,2286.4L675.8,2289.3L676.5,2292.2L677.2,2295.1L677.9,2298.0L678.7,2300.9L679.4,2303.8L680.1,2306.7L680.8,2309.7L681.4,2312.6L682.0,2315.5L682.6,2318.5L683.2,2321.4L683.8,2324.4L684.4,2327.3L685.0,2330.2L685.6,2333.2L686.1,2336.1L686.5,2339.1L686.9,2342.1L687.3,2345.1L687.6,2348.0L688.0,2351.0L688.4,2354.0L688.8,2357.0L689.2,2359.9L689.7,2362.9L690.2,2365.8L690.8,2368.8L691.4,2371.7L692.0,2374.7L692.6,2377.6L693.3,2380.5L693.9,2383.5L694.4,2386.4L694.9,2389.4L695.5,2392.3L696.0,2395.3L696.4,2398.2L696.9,2401.2L697.4,2404.2L697.8,2407.1L698.3,2410.1L698.8,2413.1L699.2,2416.0L699.7,2419.0L700.2,2422.0L700.6,2424.9L701.1,2427.9L701.6,2430.8L702.0,2433.8L702.5,2436.8L702.9,2439.7L703.4,2442.7L703.9,2445.7L704.4,2448.6L704.9,2451.6L705.4,2454.5L706.0,2457.5L706.5,2460.4L707.1,2463.4L707.6,2466.3L708.2,2469.3L708.9,2472.2L709.5,2475.1L710.1,2478.1L710.8,2481.0L711.5,2483.9L712.1,2486.8L712.8,2489.8L713.6,2492.7L714.3,2495.6L715.1,2498.5L715.8,2501.4L716.7,2504.3L717.6,2507.1L718.5,2510.0L719.5,2512.8L720.5,2515.6L721.6,2518.4L722.7,2521.2L723.9,2524.0L725.1,2526.7L726.4,2529.4L727.7,2532.1L729.1,2534.7L730.6,2537.4L732.0,2540.0L733.5,2542.6L735.0,2545.2L736.5,2547.8L738.0,2550.4L739.4,2553.0L741.0,2555.6L742.6,2558.2L744.3,2560.6L746.2,2563.0L748.2,2565.1L750.5,2567.1L752.9,2568.9L755.5,2570.5L758.0,2572.0L760.7,2573.5L763.3,2574.9L766.0,2576.1L768.8,2577.3L771.6,2578.3L774.5,2579.2L777.4,2579.9L780.3,2580.6L783.3,2581.2L786.2,2581.8L789.1,2582.3L792.1,2582.8L795.1,2583.3L798.0,2583.7L801.0,2584.2L804.0,2584.6L806.9,2585.0L809.9,2585.5L812.9,2586.0L815.8,2586.6L818.8,2587.1L821.7,2587.7L824.7,2588.2L827.6,2588.7L830.6,2589.3L833.5,2589.8L836.5,2590.3L839.4,2590.8L842.4,2591.2L845.4,2591.7L848.3,2592.1L851.3,2592.5L854.3,2592.8L857.3,2593.1L860.3,2593.4L863.3,2593.7L866.2,2594.0L869.2,2594.3L872.2,2594.6L875.2,2594.8L878.2,2595.1L881.2,2595.3L884.2,2595.5L887.2,2595.7L890.2,2595.9L893.2,2596.1L896.1,2596.3L899.1,2596.5L902.1,2596.7L905.1,2596.8L908.1,2597.0L911.1,2597.1L914.1,2597.2L917.1,2597.4L920.1,2597.5L923.1,2597.5L926.1,2597.6L929.1,2597.6L932.1,2597.7L935.1,2597.7L938.1,2597.7L941.1,2597.7L944.1,2597.7L947.1,2597.7L950.1,2597.7L953.1,2597.7L956.1,2597.7L959.1,2597.7L962.1,2597.7L965.1,2597.8L968.1,2597.8L971.1,2597.8L974.1,2597.8L977.1,2597.8L980.1,2597.9L983.1,2597.9L986.1,2598.0L989.1,2598.0L992.1,2598.0L995.1,2598.1L998.1,2598.1L1001.1,2598.2L1004.1,2598.2L1007.1,2598.2L1010.1,2598.3L1013.1,2598.3L1016.1,2598.4L1019.1,2598.4L1022.1,2598.4L1025.1,2598.4L1028.1,2598.4L1031.1,2598.4L1034.1,2598.5L1037.1,2598.4L1040.1,2598.4L1043.1,2598.4L1046.1,2598.4L1049.1,2598.3L1052.1,2598.3L1055.1,2598.2L1058.1,2598.1L1061.1,2598.0L1064.1,2597.9L1067.1,2597.7L1070.1,2597.6L1073.1,2597.5L1076.1,2597.3L1079.1,2597.2L1082.1,2597.1L1085.1,2596.9L1088.1,2596.8L1091.1,2596.7L1094.1,2596.6L1097.1,2596.5L1100.1,2596.4L1103.1,2596.3L1106.1,2596.3L1109.1,2596.3L1112.1,2596.3L1115.1,2596.4L1118.1,2596.5L1121.1,2596.6L1124.1,2596.8L1127.1,2596.9L1130.1,2597.0L1133.1,2597.2L1136.1,2597.3L1139.1,2597.3L1142.1,2597.4L1145.1,2597.4L1148.1,2597.3L1151.1,2597.3L1154.1,2597.2L1157.0,2597.0L1160.0,2596.9L1163.0,2596.7L1166.0,2596.6L1169.0,2596.4L1172.0,2596.2L1175.0,2596.0L1178.0,2595.8L1181.0,2595.6L1184.0,2595.4L1187.0,2595.1L1190.0,2594.9L1193.0,2594.7L1196.0,2594.4L1198.9,2594.2L1201.9,2593.9L1204.9,2593.7L1207.9,2593.4L1210.9,2593.2L1213.9,2592.9L1216.9,2592.7L1219.9,2592.4L1222.9,2592.2L1225.9,2591.9L1228.8,2591.6L1231.8,2591.4L1234.8,2591.1L1237.8,2590.8L1240.8,2590.5L1243.8,2590.2L1246.8,2589.9L1249.7,2589.6L1252.7,2589.3L1255.7,2589.0L1258.7,2588.6L1261.7,2588.3L1264.6,2587.9L1267.6,2587.6L1270.6,2587.2L1273.6,2586.8L1276.6,2586.4L1279.5,2586.0L1282.5,2585.6L1285.5,2585.2L1288.4,2584.8L1291.4,2584.3L1294.4,2583.9L1297.3,2583.4L1300.3,2583.0L1303.3,2582.5L1306.2,2582.1L1309.2,2581.6L1312.2,2581.1L1315.1,2580.6L1318.1,2580.2L1321.0,2579.7L1324.0,2579.2L1327.0,2578.7L1329.9,2578.2L1332.9,2577.7L1335.8,2577.2L1338.8,2576.7L1341.7,2576.1L1344.7,2575.6L1347.6,2575.1L1350.6,2574.6L1353.6,2574.0L1356.5,2573.5L1359.5,2572.9L1362.4,2572.4L1365.4,2571.8L1368.3,2571.3L1371.2,2570.7L1374.2,2570.2L1377.1,2569.6L1380.1,2569.0L1383.0,2568.5L1386.0,2567.9L1388.9,2567.4L1391.9,2566.8L1394.8,2566.2L1397.8,2565.6L1400.7,2565.0L1403.6,2564.4L1406.6,2563.7L1409.5,2563.1L1412.4,2562.5L1415.4,2561.9L1418.3,2561.3L1421.3,2560.8L1424.2,2560.2L1427.2,2559.7L1430.1,2559.2L1433.1,2558.7L1436.1,2558.3L1439.0,2557.8L1442.0,2557.3L1444.9,2556.8L1447.9,2556.3L1450.8,2555.8L1453.8,2555.3L1456.8,2554.7L1459.7,2554.1L1462.6,2553.5L1465.6,2552.9L1468.5,2552.2L1471.4,2551.5L1474.3,2550.8L1477.2,2550.0L1480.1,2549.1L1483.0,2548.3L1485.8,2547.4L1488.7,2546.5L1491.5,2545.5L1494.4,2544.5L1497.2,2543.5L1500.0,2542.5L1502.8,2541.5L1505.6,2540.4L1508.4,2539.3L1511.2,2538.2L1514.0,2537.1L1516.7,2535.9L1519.5,2534.7L1522.2,2533.5L1524.9,2532.2L1527.6,2530.9L1530.3,2529.5L1533.0,2528.2L1535.7,2526.8L1538.3,2525.5L1541.0,2524.0L1543.6,2522.6L1546.2,2521.1L1548.8,2519.6L1551.3,2518.0L1553.9,2516.4L1556.4,2514.8L1559.0,2513.2L1561.6,2511.7L1564.2,2510.2L1566.8,2508.7L1569.3,2507.2L1572.0,2505.7L1574.6,2504.2L1577.2,2502.8L1579.9,2501.4L1582.6,2500.1L1585.3,2498.9L1588.1,2497.7L1590.9,2496.6L1593.7,2495.5L1596.5,2494.5L1599.3,2493.6L1602.2,2492.7L1605.1,2491.9L1608.0,2491.1L1610.9,2490.4L1613.8,2489.7L1616.8,2489.0L1619.7,2488.4L1622.6,2487.9L1625.6,2487.3L1628.5,2486.8L1631.5,2486.3L1634.5,2485.9L1637.5,2485.5L1640.4,2485.2L1643.4,2485.0L1646.4,2484.7L1649.4,2484.3L1652.4,2483.9L1655.3,2483.4L1658.3,2482.9L1661.2,2482.3L1664.2,2481.7L1667.1,2481.1L1670.0,2480.4L1672.9,2479.7L1675.9,2479.0L1678.8,2478.3L1681.7,2477.6L1684.6,2476.8L1687.4,2475.9L1690.3,2475.0L1693.1,2474.0L1696.0,2473.0L1698.7,2471.9L1701.5,2470.7L1704.2,2469.4L1706.9,2468.0L1709.5,2466.6L1712.1,2465.1L1714.7,2463.6L1717.3,2462.0L1719.8,2460.4L1722.3,2458.8L1724.9,2457.2L1727.4,2455.6L1729.9,2454.0L1732.5,2452.5L1735.1,2450.9L1737.7,2449.5L1740.4,2448.1L1743.0,2446.7L1745.7,2445.4L1748.4,2444.0L1751.0,2442.5L1753.5,2440.8L1755.9,2439.1L1758.3,2437.3L1760.6,2435.4L1762.9,2433.4L1765.2,2431.5L1767.4,2429.5L1769.7,2427.5L1771.9,2425.4L1774.1,2423.4L1776.2,2421.3L1778.4,2419.3L1780.6,2417.2L1782.8,2415.1L1784.9,2413.1L1787.1,2411.0L1789.3,2408.9L1791.4,2406.8L1793.6,2404.7L1795.7,2402.7L1797.9,2400.6L1800.1,2398.5L1802.2,2396.4L1804.4,2394.4L1806.6,2392.3L1808.7,2390.2L1810.9,2388.1L1813.0,2386.0L1815.2,2383.9L1817.3,2381.8L1819.4,2379.7L1821.5,2377.5L1823.6,2375.4L1825.6,2373.2L1827.7,2371.0L1829.6,2368.7L1831.6,2366.4L1833.5,2364.1L1835.3,2361.7L1837.2,2359.4L1839.0,2357.0L1840.7,2354.5L1842.5,2352.1L1844.2,2349.7L1846.0,2347.3L1847.8,2344.9L1849.6,2342.5L1851.4,2340.1L1853.2,2337.7L1855.0,2335.3L1856.8,2332.9L1858.6,2330.5L1860.4,2328.1L1862.2,2325.7L1864.0,2323.3L1865.8,2320.9L1867.6,2318.5L1868.9,2316.8" fill="none" stroke="#ed1c24" stroke-width="6.5" stroke-linecap="round" stroke-linejoin="round"/>
<path d="M195.4,2612.1L198.3,2612.9L201.2,2613.8L204.0,2614.6L206.9,2615.5L209.8,2616.3L212.7,2617.1L215.6,2618.0L218.4,2618.9L221.3,2619.8L224.2,2620.7L227.0,2621.6L229.8,2622.6L232.7,2623.6L235.5,2624.6L238.3,2625.6L241.1,2626.7L243.9,2627.8L246.7,2628.9L249.5,2630.0L252.2,2631.2L255.0,2632.4L257.7,2633.7L260.4,2635.0L263.1,2636.3L265.7,2637.8L268.3,2639.3L270.9,2640.8L273.5,2642.3L276.1,2643.8L278.6,2645.4L281.3,2646.8L283.9,2648.2L286.6,2649.6L289.3,2650.8L292.1,2652.0L294.9,2653.1L297.7,2654.2L300.5,2655.2L303.4,2656.1L306.2,2656.9L309.1,2657.7L312.1,2658.4L315.0,2659.0L317.9,2659.6L320.9,2660.1L323.9,2660.5L326.8,2660.9L329.8,2661.2L332.8,2661.6L335.8,2661.8L338.8,2662.1L341.8,2662.3L344.8,2662.5L347.8,2662.7L350.8,2662.9L353.7,2663.0L356.7,2663.2L359.7,2663.4L362.7,2663.5L365.7,2663.7L368.7,2663.9L371.7,2664.0L374.7,2664.1L377.7,2664.2L380.7,2664.3L383.7,2664.4L386.7,2664.5L389.7,2664.6L392.7,2664.7L395.7,2664.8L398.7,2664.9L401.7,2665.0L404.7,2665.1L407.7,2665.2L410.7,2665.3L413.7,2665.4L416.7,2665.5L419.7,2665.6L422.7,2665.7L425.7,2665.8L428.7,2666.0L431.7,2666.1L434.7,2666.3L437.7,2666.4L440.7,2666.6L443.7,2666.8L446.7,2667.0L449.7,2667.2L452.6,2667.3L455.6,2667.5L458.6,2667.6L461.6,2667.7L464.6,2667.8L467.6,2667.8L470.6,2667.7L473.6,2667.6L476.6,2667.5L479.6,2667.3L482.6,2667.0L485.6,2666.7L488.6,2666.5L491.6,2666.2L494.6,2666.0L497.6,2665.8L500.6,2665.7L503.6,2665.7L506.6,2665.8L509.6,2666.0L512.5,2666.4L515.5,2666.8L518.4,2667.4L521.4,2668.0L524.3,2668.7L527.2,2669.4L530.1,2670.2L533.0,2670.9L536.0,2671.5L538.9,2672.1L541.9,2672.4L544.9,2672.7L547.9,2673.0L550.9,2673.0L553.9,2672.8L556.8,2672.3L559.7,2671.5L562.5,2670.4L565.2,2669.1L567.9,2667.7L570.4,2666.2L572.9,2664.6L575.4,2662.8L577.7,2660.9L580.0,2659.0L582.2,2656.9L584.2,2654.7L586.1,2652.4L587.8,2649.9L589.4,2647.4L591.0,2644.8L592.4,2642.2L593.8,2639.5L595.1,2636.8L596.3,2634.1L597.5,2631.3L598.7,2628.6L599.8,2625.8L600.9,2623.0L602.1,2620.2L603.4,2617.5L604.8,2614.9L606.2,2612.2L607.4,2609.5L608.5,2606.7L609.5,2603.8L610.4,2601.0L611.3,2598.1L612.3,2595.3L613.3,2592.5L614.4,2589.7L615.6,2586.9L616.8,2584.2L618.0,2581.4L619.1,2578.6L620.2,2575.9L621.3,2573.1L622.4,2570.3L623.5,2567.5L624.6,2564.7L625.6,2561.9L626.7,2559.1L627.8,2556.3L629.0,2553.5L630.1,2550.7L631.4,2548.0L632.8,2545.4L634.3,2542.8L636.0,2540.3L638.1,2538.2L640.7,2536.6L643.6,2535.9L646.6,2535.8L649.5,2536.3L652.3,2537.5L654.6,2539.4L656.5,2541.7L658.0,2544.3L659.4,2546.9L660.6,2549.7L661.7,2552.5L662.7,2555.3L663.7,2558.1L664.7,2560.9L665.8,2563.7L666.9,2566.5L667.9,2569.4L668.8,2572.2L669.8,2575.1L670.7,2577.9L671.7,2580.7L672.8,2583.6L673.8,2586.4L674.8,2589.2L675.8,2592.0L676.8,2594.9L677.7,2597.7L678.5,2600.6L679.4,2603.5L680.3,2606.3L681.2,2609.2L682.1,2612.1L683.1,2614.9L684.1,2617.7L685.1,2620.5L686.0,2623.4L687.0,2626.2L687.9,2629.1L688.8,2632.0L689.7,2634.8L690.7,2637.7L691.7,2640.5L692.7,2643.3L693.8,2646.1L694.9,2648.9L696.1,2651.7L697.2,2654.4L698.4,2657.2L699.7,2659.9L700.9,2662.6L702.2,2665.3L703.6,2668.0L705.0,2670.7L706.4,2673.3L707.9,2675.9L709.5,2678.5L711.1,2681.0L712.8,2683.4L714.6,2685.8L716.6,2688.1L718.6,2690.3L720.8,2692.4L723.0,2694.4L725.4,2696.3L727.8,2698.0L730.3,2699.6L733.0,2701.0L735.7,2702.3L738.5,2703.5L741.3,2704.5L744.1,2705.5L747.0,2706.4L749.8,2707.2L752.8,2707.9L755.7,2708.5L758.7,2709.1L761.6,2709.6L764.5,2710.3L767.5,2710.9L770.4,2711.6L773.3,2712.2L776.3,2712.8L779.2,2713.4L782.1,2713.9L785.1,2714.4L788.1,2714.9L791.0,2715.3L794.0,2715.7L797.0,2716.1L800.0,2716.4L803.0,2716.7L805.9,2717.0L808.9,2717.3L811.9,2717.6L814.9,2717.9L817.9,2718.2L820.9,2718.4L823.9,2718.7L826.9,2718.9L829.8,2719.2L832.8,2719.4L835.8,2719.6L838.8,2719.8L841.8,2720.0L844.8,2720.3L847.8,2720.5L850.8,2720.6L853.8,2720.8L856.8,2721.0L859.8,2721.2L862.8,2721.3L865.8,2721.5L868.8,2721.7L871.8,2721.8L874.8,2721.9L877.8,2722.0L880.8,2722.1L883.8,2722.2L886.8,2722.3L889.7,2722.4L892.7,2722.5L895.7,2722.6L898.7,2722.6L901.7,2722.7L904.7,2722.7L907.7,2722.8L910.7,2722.9L913.7,2722.9L916.7,2723.0L919.7,2723.0L922.7,2723.1L925.7,2723.1L928.7,2723.2L931.7,2723.2L934.7,2723.3L937.7,2723.3L940.7,2723.4L943.7,2723.4L946.7,2723.4L949.7,2723.5L952.7,2723.5L955.7,2723.6L958.7,2723.6L961.7,2723.7L964.7,2723.7L967.7,2723.7L970.7,2723.8L973.7,2723.8L976.7,2723.8L979.7,2723.9L982.7,2723.9L985.7,2723.9L988.7,2724.0L991.7,2724.0L994.7,2724.0L997.7,2724.1L1000.7,2724.1L1003.7,2724.1L1006.7,2724.2L1009.7,2724.2L1012.7,2724.2L1015.7,2724.2L1018.7,2724.3L1021.7,2724.3L1024.7,2724.3L1027.7,2724.3L1030.7,2724.4L1033.7,2724.4L1036.7,2724.4L1039.7,2724.4L1042.7,2724.4L1045.7,2724.4L1048.7,2724.4L1051.7,2724.4L1054.7,2724.4L1057.7,2724.4L1060.7,2724.3L1063.7,2724.3L1066.7,2724.3L1069.7,2724.2L1072.7,2724.1L1075.7,2724.1L1078.7,2724.0L1081.7,2723.9L1084.7,2723.8L1087.7,2723.7L1090.7,2723.6L1093.7,2723.4L1096.7,2723.3L1099.7,2723.2L1102.7,2723.1L1105.7,2723.0L1108.7,2722.8L1111.7,2722.7L1114.7,2722.6L1117.7,2722.4L1120.7,2722.2L1123.7,2722.1L1126.7,2721.9L1129.7,2721.7L1132.7,2721.5L1135.7,2721.3L1138.7,2721.1L1141.7,2720.9L1144.6,2720.7L1147.6,2720.6L1150.6,2720.4L1153.6,2720.2L1156.6,2720.0L1159.6,2719.8L1162.6,2719.6L1165.6,2719.4L1168.6,2719.2L1171.6,2719.0L1174.6,2718.8L1177.6,2718.6L1180.6,2718.4L1183.6,2718.2L1186.6,2718.0L1189.6,2717.8L1192.5,2717.6L1195.5,2717.4L1198.5,2717.2L1201.5,2717.0L1204.5,2716.8L1207.5,2716.6L1210.5,2716.3L1213.5,2716.1L1216.5,2715.9L1219.5,2715.7L1222.5,2715.5L1225.5,2715.2L1228.5,2715.0L1231.4,2714.8L1234.4,2714.6L1237.4,2714.4L1240.4,2714.1L1243.4,2713.9L1246.4,2713.6L1249.4,2713.4L1252.4,2713.1L1255.4,2712.8L1258.3,2712.5L1261.3,2712.2L1264.3,2711.9L1267.3,2711.6L1270.3,2711.3L1273.3,2710.9L1276.2,2710.5L1279.2,2710.2L1282.2,2709.8L1285.2,2709.4L1288.1,2709.0L1291.1,2708.6L1294.1,2708.2L1297.0,2707.7L1300.0,2707.3L1303.0,2706.9L1305.9,2706.4L1308.9,2705.9L1311.9,2705.5L1314.8,2705.0L1317.8,2704.5L1320.7,2703.9L1323.7,2703.4L1326.6,2702.9L1329.6,2702.3L1332.5,2701.7L1335.5,2701.1L1338.4,2700.5L1341.3,2699.9L1344.3,2699.2L1347.2,2698.6L1350.1,2697.9L1353.0,2697.2L1356.0,2696.5L1358.9,2695.8L1361.8,2695.1L1364.7,2694.4L1367.6,2693.7L1370.5,2693.0L1373.5,2692.3L1376.4,2691.6L1379.3,2691.0L1382.2,2690.3L1385.2,2689.6L1388.1,2689.0L1391.0,2688.5L1394.0,2687.9L1397.0,2687.4L1399.9,2686.9L1402.9,2686.5L1405.8,2686.1L1408.8,2685.7L1411.8,2685.2L1414.8,2684.8L1417.7,2684.4L1420.7,2683.9L1423.6,2683.3L1426.6,2682.8L1429.5,2682.2L1432.5,2681.6L1435.4,2681.1L1438.4,2680.5L1441.3,2679.9L1444.2,2679.2L1447.2,2678.6L1450.1,2678.0L1453.0,2677.4L1456.0,2676.7L1458.9,2676.1L1461.9,2675.5L1464.8,2674.9L1467.7,2674.2L1470.6,2673.5L1473.5,2672.7L1476.4,2671.9L1479.3,2671.1L1482.2,2670.2L1485.0,2669.3L1487.9,2668.4L1490.7,2667.4L1493.6,2666.5L1496.4,2665.5L1499.2,2664.5L1502.0,2663.4L1504.8,2662.4L1507.6,2661.3L1510.4,2660.2L1513.2,2659.1L1516.0,2657.9L1518.7,2656.6L1521.4,2655.4L1524.1,2654.1L1526.8,2652.7L1529.5,2651.3L1532.1,2649.9L1534.7,2648.5L1537.4,2647.0L1540.0,2645.6L1542.6,2644.1L1545.2,2642.6L1547.8,2641.1L1550.4,2639.6L1553.0,2638.1L1555.6,2636.6L1558.2,2635.1L1560.8,2633.6L1563.3,2632.0L1565.9,2630.5L1568.5,2628.9L1571.0,2627.3L1573.5,2625.7L1576.1,2624.1L1578.6,2622.5L1581.2,2621.0L1583.7,2619.4L1586.3,2617.8L1588.8,2616.1L1591.3,2614.5L1593.8,2612.9L1596.4,2611.4L1599.0,2609.9L1601.7,2608.4L1604.3,2607.1L1607.1,2605.9L1609.9,2604.8L1612.7,2603.9L1615.6,2603.0L1618.5,2602.3L1621.4,2601.6L1624.4,2601.0L1627.3,2600.4L1630.3,2599.9L1633.2,2599.3L1636.2,2598.9L1639.1,2598.4L1642.1,2598.0L1645.1,2597.5L1648.0,2597.0L1651.0,2596.6L1654.0,2596.2L1657.0,2595.9L1659.9,2595.6L1662.9,2595.3L1665.9,2595.1L1668.9,2594.8L1671.9,2594.5L1674.9,2594.2L1677.9,2593.9L1680.8,2593.5L1683.8,2593.0L1686.7,2592.4L1689.7,2591.7L1692.6,2591.0L1695.5,2590.2L1698.3,2589.3L1701.2,2588.3L1704.0,2587.4L1706.8,2586.3L1709.6,2585.3L1712.4,2584.2L1715.2,2583.0L1718.0,2581.9L1720.7,2580.7L1723.5,2579.5L1726.2,2578.2L1728.9,2577.0L1731.6,2575.7L1734.3,2574.4L1737.0,2573.1L1739.7,2571.8L1742.4,2570.4L1745.1,2569.0L1747.7,2567.6L1750.3,2566.2L1753.0,2564.7L1755.6,2563.2L1758.2,2561.7L1760.7,2560.2L1763.3,2558.6L1765.8,2556.9L1768.3,2555.3L1770.7,2553.6L1773.2,2551.8L1775.6,2550.0L1777.9,2548.1L1780.2,2546.2L1782.5,2544.2L1784.7,2542.2L1786.9,2540.2L1789.1,2538.2L1791.3,2536.1L1793.5,2534.0L1795.6,2532.0L1797.8,2529.9L1800.0,2527.8L1802.1,2525.7L1804.3,2523.6L1806.4,2521.5L1808.5,2519.4L1810.6,2517.2L1812.7,2515.1L1814.8,2512.9L1816.8,2510.7L1818.9,2508.5L1820.9,2506.3L1822.9,2504.0L1824.8,2501.7L1826.7,2499.4L1828.6,2497.1L1830.4,2494.7L1832.1,2492.2L1833.8,2489.7L1835.4,2487.2L1837.0,2484.7L1838.5,2482.1L1840.0,2479.5L1841.5,2476.9L1843.0,2474.3L1844.5,2471.7L1846.0,2469.1L1847.6,2466.5L1849.1,2464.0L1850.7,2461.4L1852.2,2458.8L1853.8,2456.3L1855.3,2453.7L1856.8,2451.1L1858.4,2448.5L1859.9,2446.0L1861.5,2443.4L1863.0,2440.8L1864.5,2438.2L1866.1,2435.7L1867.6,2433.1L1868.9,2430.9" fill="none" stroke="#007a3d" stroke-width="6.5" stroke-linecap="round" stroke-linejoin="round"/>
<path d="M193.9,2789.3L196.7,2790.4L199.5,2791.6L202.2,2792.7L205.0,2793.8L207.8,2794.9L210.6,2796.0L213.5,2796.9L216.3,2797.8L219.2,2798.6L222.1,2799.3L225.1,2799.9L228.0,2800.5L231.0,2801.0L233.9,2801.4L236.9,2801.8L239.9,2802.2L242.9,2802.6L245.9,2802.9L248.8,2803.2L251.8,2803.6L254.8,2803.9L257.8,2804.1L260.8,2804.4L263.8,2804.7L266.7,2805.0L269.7,2805.3L272.7,2805.6L275.7,2805.8L278.7,2806.1L281.7,2806.4L284.7,2806.6L287.7,2806.9L290.6,2807.2L293.6,2807.4L296.6,2807.6L299.6,2807.9L302.6,2808.1L305.6,2808.3L308.6,2808.6L311.6,2808.8L314.6,2809.0L317.6,2809.2L320.6,2809.4L323.6,2809.6L326.6,2809.8L329.5,2809.9L332.5,2810.1L335.5,2810.3L338.5,2810.4L341.5,2810.6L344.5,2810.7L347.5,2810.9L350.5,2811.0L353.5,2811.1L356.5,2811.2L359.5,2811.4L362.5,2811.5L365.5,2811.6L368.5,2811.7L371.5,2811.8L374.5,2811.9L377.5,2812.0L380.5,2812.1L383.5,2812.2L386.5,2812.3L389.5,2812.4L392.5,2812.5L395.5,2812.6L398.5,2812.7L401.5,2812.8L404.5,2812.9L407.5,2812.9L410.5,2813.0L413.5,2813.1L416.5,2813.1L419.5,2813.2L422.5,2813.3L425.5,2813.5L428.5,2813.6L431.5,2813.5L434.4,2813.0L437.3,2812.2L440.1,2811.1L442.8,2809.8L445.4,2808.3L447.9,2806.6L450.4,2804.9L452.7,2803.1L455.0,2801.1L457.2,2799.1L459.4,2797.1L461.6,2795.0L463.6,2792.8L465.7,2790.6L467.6,2788.3L469.5,2786.0L471.4,2783.6L473.2,2781.3L475.0,2778.9L476.8,2776.4L478.5,2774.0L480.2,2771.5L481.8,2769.0L483.5,2766.5L485.3,2764.1L487.0,2761.6L488.7,2759.2L490.5,2756.7L492.3,2754.3L494.3,2752.1L496.4,2750.0L498.9,2748.3L501.6,2747.0L504.5,2746.1L507.4,2745.7L510.4,2745.7L513.4,2746.2L516.2,2747.1L518.9,2748.5L521.3,2750.3L523.4,2752.4L525.4,2754.7L527.2,2757.1L528.9,2759.5L530.6,2762.0L532.2,2764.5L533.9,2767.0L535.6,2769.5L537.3,2772.0L538.9,2774.5L540.6,2777.0L542.2,2779.5L543.9,2782.0L545.5,2784.5L547.0,2787.1L548.6,2789.7L550.1,2792.3L551.6,2794.8L553.2,2797.4L554.8,2799.9L556.5,2802.4L558.3,2804.8L560.2,2807.2L562.1,2809.5L564.1,2811.7L566.2,2813.9L568.3,2816.0L570.5,2818.0L572.7,2820.0L575.0,2822.0L577.3,2823.9L579.7,2825.7L582.1,2827.5L584.7,2829.1L587.3,2830.5L590.0,2831.9L592.7,2833.0L595.6,2834.1L598.4,2835.0L601.3,2835.8L604.2,2836.6L607.1,2837.3L610.0,2838.1L612.9,2838.7L615.9,2839.4L618.8,2840.0L621.7,2840.6L624.7,2841.1L627.6,2841.7L630.6,2842.2L633.5,2842.7L636.5,2843.2L639.5,2843.7L642.4,2844.2L645.4,2844.7L648.4,2845.1L651.3,2845.6L654.3,2846.0L657.3,2846.4L660.2,2846.8L663.2,2847.2L666.2,2847.7L669.1,2848.1L672.1,2848.5L675.1,2849.0L678.0,2849.4L681.0,2849.9L684.0,2850.4L686.9,2850.8L689.9,2851.3L692.8,2851.8L695.8,2852.3L698.8,2852.8L701.7,2853.3L704.7,2853.7L707.7,2854.2L710.6,2854.6L713.6,2855.1L716.6,2855.5L719.5,2856.0L722.5,2856.4L725.5,2856.8L728.4,2857.1L731.4,2857.5L734.4,2857.8L737.4,2858.1L740.4,2858.4L743.4,2858.7L746.4,2859.0L749.3,2859.2L752.3,2859.5L755.3,2859.7L758.3,2859.9L761.3,2860.1L764.3,2860.3L767.3,2860.4L770.3,2860.6L773.3,2860.8L776.3,2860.9L779.3,2861.1L782.3,2861.2L785.3,2861.3L788.3,2861.5L791.3,2861.6L794.3,2861.7L797.3,2861.8L800.3,2861.9L803.3,2862.0L806.3,2862.1L809.3,2862.2L812.3,2862.2L815.3,2862.3L818.3,2862.3L821.3,2862.3L824.3,2862.4L827.3,2862.4L830.3,2862.4L833.3,2862.5L836.3,2862.5L839.3,2862.5L842.3,2862.5L845.3,2862.5L848.3,2862.6L851.3,2862.6L854.3,2862.6L857.3,2862.6L860.3,2862.7L863.3,2862.7L866.3,2862.7L869.3,2862.8L872.3,2862.8L875.3,2862.8L878.3,2862.8L881.3,2862.9L884.3,2862.9L887.3,2862.9L890.3,2862.9L893.3,2862.9L896.3,2862.9L899.3,2862.9L902.3,2862.9L905.3,2862.9L908.3,2862.9L911.3,2862.9L914.3,2862.9L917.3,2862.9L920.3,2862.8L923.3,2862.8L926.3,2862.7L929.3,2862.6L932.3,2862.6L935.3,2862.5L938.3,2862.4L941.3,2862.4L944.3,2862.3L947.3,2862.2L950.3,2862.1L953.3,2862.1L956.3,2862.0L959.3,2861.9L962.2,2861.9L965.2,2861.8L968.2,2861.8L971.2,2861.7L974.2,2861.7L977.2,2861.7L980.2,2861.6L983.2,2861.6L986.2,2861.6L989.2,2861.6L992.2,2861.6L995.2,2861.6L998.2,2861.6L1001.2,2861.6L1004.2,2861.6L1007.2,2861.7L1010.2,2861.7L1013.2,2861.7L1016.2,2861.7L1019.2,2861.7L1022.2,2861.7L1025.2,2861.6L1028.2,2861.6L1031.2,2861.6L1034.2,2861.6L1037.2,2861.5L1040.2,2861.5L1043.2,2861.4L1046.2,2861.4L1049.2,2861.3L1052.2,2861.2L1055.2,2861.1L1058.2,2861.0L1061.2,2860.9L1064.2,2860.8L1067.2,2860.6L1070.2,2860.5L1073.2,2860.3L1076.2,2860.2L1079.2,2860.0L1082.2,2859.9L1085.2,2859.7L1088.2,2859.5L1091.2,2859.3L1094.2,2859.1L1097.2,2859.0L1100.2,2858.8L1103.2,2858.6L1106.2,2858.4L1109.2,2858.2L1112.2,2858.0L1115.1,2857.8L1118.1,2857.6L1121.1,2857.4L1124.1,2857.2L1127.1,2857.0L1130.1,2856.8L1133.1,2856.5L1136.1,2856.3L1139.1,2856.1L1142.1,2855.8L1145.1,2855.6L1148.1,2855.4L1151.0,2855.1L1154.0,2854.9L1157.0,2854.6L1160.0,2854.4L1163.0,2854.1L1166.0,2853.8L1169.0,2853.6L1172.0,2853.3L1175.0,2853.0L1177.9,2852.7L1180.9,2852.4L1183.9,2852.1L1186.9,2851.7L1189.9,2851.4L1192.9,2851.1L1195.8,2850.8L1198.8,2850.5L1201.8,2850.2L1204.8,2849.8L1207.8,2849.5L1210.8,2849.2L1213.7,2848.9L1216.7,2848.6L1219.7,2848.4L1222.7,2848.1L1225.7,2847.8L1228.7,2847.6L1231.7,2847.4L1234.7,2847.1L1237.7,2846.9L1240.6,2846.7L1243.6,2846.5L1246.6,2846.3L1249.6,2846.1L1252.6,2845.9L1255.6,2845.7L1258.6,2845.5L1261.6,2845.3L1264.6,2845.1L1267.6,2844.9L1270.6,2844.7L1273.6,2844.5L1276.6,2844.2L1279.6,2844.0L1282.5,2843.7L1285.5,2843.4L1288.5,2843.1L1291.5,2842.7L1294.5,2842.3L1297.4,2841.8L1300.4,2841.3L1303.3,2840.8L1306.3,2840.2L1309.2,2839.6L1312.1,2839.0L1315.1,2838.3L1318.0,2837.6L1320.9,2836.9L1323.8,2836.3L1326.8,2835.6L1329.7,2835.0L1332.6,2834.4L1335.6,2833.9L1338.5,2833.3L1341.5,2832.7L1344.4,2832.2L1347.4,2831.6L1350.3,2831.0L1353.3,2830.5L1356.2,2829.9L1359.1,2829.3L1362.1,2828.7L1365.0,2828.1L1368.0,2827.4L1370.9,2826.8L1373.8,2826.1L1376.7,2825.4L1379.6,2824.7L1382.6,2824.0L1385.5,2823.2L1388.4,2822.5L1391.3,2821.8L1394.2,2821.0L1397.1,2820.3L1400.0,2819.5L1402.9,2818.7L1405.8,2818.0L1408.7,2817.2L1411.6,2816.5L1414.5,2815.7L1417.4,2815.0L1420.3,2814.3L1423.2,2813.5L1426.1,2812.8L1429.0,2812.0L1431.9,2811.3L1434.8,2810.5L1437.7,2809.7L1440.6,2808.8L1443.5,2807.9L1446.3,2807.0L1449.2,2806.0L1452.0,2805.0L1454.8,2804.0L1457.6,2802.9L1460.4,2801.8L1463.2,2800.7L1465.9,2799.5L1468.7,2798.3L1471.4,2797.1L1474.2,2795.9L1476.9,2794.7L1479.7,2793.4L1482.4,2792.2L1485.1,2790.9L1487.8,2789.6L1490.5,2788.3L1493.2,2786.9L1495.8,2785.5L1498.4,2784.0L1500.9,2782.4L1503.4,2780.8L1505.9,2779.1L1508.4,2777.4L1510.9,2775.7L1513.4,2774.0L1515.8,2772.3L1518.3,2770.6L1520.7,2768.8L1523.2,2767.1L1525.6,2765.3L1528.0,2763.5L1530.4,2761.7L1532.8,2759.9L1535.1,2758.1L1537.5,2756.2L1539.7,2754.2L1542.0,2752.2L1544.1,2750.1L1546.2,2748.0L1548.3,2745.8L1550.3,2743.6L1552.4,2741.4L1554.5,2739.2L1556.6,2737.1L1558.7,2735.0L1560.9,2733.0L1563.2,2731.0L1565.4,2729.0L1567.6,2727.0L1569.9,2725.0L1572.2,2723.1L1574.5,2721.1L1576.8,2719.2L1579.1,2717.3L1581.4,2715.4L1583.7,2713.5L1586.0,2711.5L1588.3,2709.6L1590.7,2707.8L1593.1,2706.0L1595.5,2704.2L1598.1,2702.6L1600.7,2701.2L1603.4,2699.9L1606.2,2698.9L1609.2,2698.3L1612.1,2698.0L1615.1,2698.1L1618.1,2698.5L1621.1,2699.1L1623.9,2699.9L1626.8,2700.8L1629.7,2701.7L1632.5,2702.7L1635.3,2703.8L1638.1,2704.8L1640.9,2705.9L1643.6,2707.1L1646.4,2708.4L1649.1,2709.6L1651.8,2710.9L1654.5,2712.2L1657.2,2713.4L1660.0,2714.6L1662.9,2715.6L1665.7,2716.4L1668.6,2717.2L1671.6,2717.8L1674.5,2718.3L1677.5,2718.7L1680.5,2718.8L1683.5,2718.8L1686.5,2718.6L1689.5,2718.1L1692.4,2717.5L1695.3,2716.8L1698.2,2715.9L1701.0,2715.0L1703.8,2714.0L1706.6,2712.9L1709.4,2711.8L1712.2,2710.7L1715.0,2709.6L1717.8,2708.4L1720.5,2707.2L1723.2,2705.9L1725.9,2704.7L1728.6,2703.3L1731.3,2702.0L1734.0,2700.6L1736.6,2699.2L1739.3,2697.7L1741.9,2696.2L1744.4,2694.7L1747.0,2693.2L1749.6,2691.6L1752.1,2690.0L1754.6,2688.3L1757.1,2686.7L1759.6,2685.0L1762.0,2683.2L1764.4,2681.4L1766.8,2679.6L1769.1,2677.7L1771.5,2675.9L1773.8,2673.9L1776.1,2672.0L1778.3,2670.0L1780.6,2668.0L1782.8,2666.0L1785.0,2664.0L1787.2,2661.9L1789.3,2659.8L1791.5,2657.7L1793.5,2655.6L1795.6,2653.4L1797.7,2651.2L1799.7,2649.0L1801.7,2646.7L1803.6,2644.5L1805.6,2642.2L1807.5,2639.9L1809.4,2637.5L1811.3,2635.2L1813.2,2632.9L1815.0,2630.5L1816.9,2628.1L1818.7,2625.8L1820.5,2623.4L1822.3,2621.0L1824.0,2618.5L1825.8,2616.1L1827.5,2613.6L1829.2,2611.2L1830.9,2608.7L1832.5,2606.1L1834.1,2603.6L1835.6,2601.0L1837.1,2598.4L1838.6,2595.8L1840.0,2593.2L1841.5,2590.5L1842.9,2587.9L1844.4,2585.3L1845.9,2582.7L1847.4,2580.1L1848.9,2577.5L1850.5,2575.0L1852.0,2572.4L1853.6,2569.8L1855.2,2567.3L1856.8,2564.8L1858.4,2562.2L1860.0,2559.7L1861.6,2557.1L1863.2,2554.6L1864.7,2552.0L1865.9,2550.2" fill="none" stroke="#2546a2" stroke-width="6.5" stroke-linecap="round" stroke-linejoin="round"/>
<path d="M191.0,2908.4L193.9,2909.3L196.7,2910.2L199.6,2911.1L202.5,2912.0L205.3,2912.9L208.2,2913.7L211.1,2914.6L214.0,2915.4L216.9,2916.2L219.8,2916.9L222.7,2917.6L225.6,2918.2L228.6,2918.7L231.6,2919.1L234.5,2919.5L237.5,2919.8L240.5,2920.0L243.5,2920.2L246.5,2920.4L249.5,2920.5L252.5,2920.6L255.5,2920.6L258.5,2920.7L261.5,2920.7L264.5,2920.6L267.5,2920.6L270.5,2920.5L273.5,2920.4L276.5,2920.3L279.5,2920.1L282.5,2919.9L285.5,2919.7L288.5,2919.4L291.4,2919.1L294.4,2918.8L297.4,2918.3L300.3,2917.9L303.3,2917.3L306.2,2916.8L309.2,2916.1L312.1,2915.3L314.9,2914.4L317.7,2913.4L320.5,2912.2L323.2,2910.9L325.9,2909.5L328.6,2908.2L331.2,2906.8L333.9,2905.5L336.6,2904.2L339.3,2902.8L341.9,2901.4L344.6,2900.0L347.3,2898.6L349.9,2897.2L352.6,2895.9L355.3,2894.5L358.0,2893.2L360.7,2891.9L363.4,2890.7L366.2,2889.6L369.0,2888.5L371.8,2887.5L374.7,2886.5L377.5,2885.5L380.4,2884.6L383.2,2883.7L386.1,2882.9L389.0,2882.1L391.9,2881.4L394.8,2880.8L397.8,2880.2L400.8,2879.9L403.8,2879.7L406.8,2879.8L409.8,2880.1L412.7,2880.4L415.7,2880.8L418.7,2881.3L421.6,2882.0L424.5,2882.8L427.3,2883.8L430.0,2885.1L432.7,2886.5L435.2,2888.0L437.7,2889.7L440.1,2891.5L442.5,2893.3L444.9,2895.2L447.2,2897.1L449.5,2898.9L451.9,2900.8L454.3,2902.7L456.6,2904.5L459.0,2906.3L461.5,2908.0L463.9,2909.7L466.4,2911.5L468.8,2913.2L471.3,2914.9L473.7,2916.7L476.2,2918.4L478.7,2920.1L481.2,2921.7L483.7,2923.3L486.3,2924.9L488.9,2926.4L491.5,2927.8L494.2,2929.2L496.9,2930.4L499.7,2931.6L502.5,2932.6L505.3,2933.6L508.2,2934.6L511.1,2935.4L513.9,2936.2L516.8,2937.0L519.7,2937.7L522.7,2938.4L525.6,2939.1L528.5,2939.7L531.5,2940.4L534.4,2941.0L537.3,2941.6L540.3,2942.2L543.2,2942.9L546.1,2943.5L549.1,2944.0L552.0,2944.6L555.0,2945.1L557.9,2945.7L560.9,2946.2L563.8,2946.6L566.8,2947.1L569.8,2947.6L572.7,2948.0L575.7,2948.5L578.7,2948.9L581.6,2949.3L584.6,2949.8L587.6,2950.2L590.6,2950.6L593.5,2950.9L596.5,2951.2L599.5,2951.5L602.5,2951.7L605.5,2952.0L608.5,2952.3L611.5,2952.7L614.4,2953.0L617.4,2953.4L620.4,2953.8L623.3,2954.3L626.3,2954.7L629.3,2955.1L632.3,2955.6L635.2,2956.0L638.2,2956.5L641.2,2956.9L644.1,2957.4L647.1,2957.8L650.1,2958.2L653.0,2958.7L656.0,2959.1L659.0,2959.5L661.9,2959.9L664.9,2960.3L667.9,2960.7L670.9,2961.1L673.8,2961.4L676.8,2961.7L679.8,2962.1L682.8,2962.4L685.8,2962.7L688.8,2963.0L691.7,2963.3L694.7,2963.5L697.7,2963.8L700.7,2964.1L703.7,2964.3L706.7,2964.6L709.7,2964.8L712.7,2965.0L715.7,2965.3L718.7,2965.5L721.6,2965.7L724.6,2965.9L727.6,2966.1L730.6,2966.3L733.6,2966.5L736.6,2966.6L739.6,2966.8L742.6,2967.0L745.6,2967.2L748.6,2967.3L751.6,2967.4L754.6,2967.6L757.6,2967.7L760.6,2967.8L763.6,2968.0L766.6,2968.1L769.6,2968.2L772.6,2968.3L775.6,2968.4L778.6,2968.5L781.6,2968.6L784.6,2968.7L787.6,2968.7L790.6,2968.8L793.6,2968.9L796.6,2969.0L799.6,2969.0L802.6,2969.1L805.6,2969.2L808.6,2969.2L811.6,2969.3L814.6,2969.3L817.6,2969.4L820.6,2969.4L823.6,2969.4L826.6,2969.5L829.6,2969.5L832.6,2969.5L835.6,2969.5L838.6,2969.5L841.6,2969.5L844.6,2969.5L847.6,2969.5L850.6,2969.5L853.6,2969.5L856.6,2969.5L859.6,2969.4L862.6,2969.4L865.6,2969.3L868.6,2969.3L871.6,2969.2L874.6,2969.2L877.6,2969.1L880.6,2969.0L883.6,2969.0L886.6,2968.9L889.6,2968.8L892.6,2968.7L895.6,2968.6L898.6,2968.5L901.6,2968.4L904.5,2968.3L907.5,2968.2L910.5,2968.1L913.5,2968.0L916.5,2967.9L919.5,2967.7L922.5,2967.6L925.5,2967.4L928.5,2967.3L931.5,2967.2L934.5,2967.0L937.5,2966.8L940.5,2966.7L943.5,2966.5L946.5,2966.4L949.5,2966.2L952.5,2966.0L955.5,2965.9L958.5,2965.7L961.5,2965.6L964.5,2965.4L967.5,2965.3L970.5,2965.2L973.5,2965.1L976.5,2964.9L979.5,2964.8L982.5,2964.7L985.5,2964.6L988.5,2964.6L991.5,2964.5L994.5,2964.4L997.5,2964.3L1000.5,2964.2L1003.5,2964.1L1006.5,2964.1L1009.5,2964.0L1012.5,2963.9L1015.5,2963.8L1018.5,2963.7L1021.4,2963.6L1024.4,2963.5L1027.4,2963.4L1030.4,2963.3L1033.4,2963.2L1036.4,2963.1L1039.4,2963.0L1042.4,2962.8L1045.4,2962.7L1048.4,2962.5L1051.4,2962.3L1054.4,2962.2L1057.4,2962.0L1060.4,2961.8L1063.4,2961.6L1066.4,2961.4L1069.4,2961.1L1072.4,2960.9L1075.4,2960.7L1078.4,2960.4L1081.3,2960.2L1084.3,2960.0L1087.3,2959.7L1090.3,2959.4L1093.3,2959.2L1096.3,2958.9L1099.3,2958.7L1102.3,2958.4L1105.3,2958.1L1108.2,2957.9L1111.2,2957.6L1114.2,2957.3L1117.2,2957.1L1120.2,2956.8L1123.2,2956.5L1126.2,2956.2L1129.2,2955.9L1132.1,2955.7L1135.1,2955.4L1138.1,2955.1L1141.1,2954.8L1144.1,2954.5L1147.1,2954.1L1150.0,2953.8L1153.0,2953.5L1156.0,2953.2L1159.0,2952.9L1162.0,2952.5L1165.0,2952.2L1167.9,2951.9L1170.9,2951.5L1173.9,2951.1L1176.9,2950.8L1179.9,2950.4L1182.8,2950.0L1185.8,2949.7L1188.8,2949.3L1191.8,2948.9L1194.7,2948.5L1197.7,2948.1L1200.7,2947.7L1203.7,2947.3L1206.6,2946.9L1209.6,2946.6L1212.6,2946.2L1215.6,2945.8L1218.5,2945.4L1221.5,2945.1L1224.5,2944.7L1227.5,2944.4L1230.4,2944.0L1233.4,2943.7L1236.4,2943.3L1239.4,2943.0L1242.4,2942.7L1245.4,2942.4L1248.3,2942.0L1251.3,2941.7L1254.3,2941.4L1257.3,2941.1L1260.3,2940.7L1263.2,2940.4L1266.2,2940.1L1269.2,2939.7L1272.2,2939.4L1275.2,2939.0L1278.2,2938.7L1281.1,2938.3L1284.1,2938.0L1287.1,2937.6L1290.1,2937.2L1293.0,2936.8L1296.0,2936.3L1299.0,2935.9L1301.9,2935.4L1304.9,2935.0L1307.8,2934.5L1310.8,2933.9L1313.8,2933.4L1316.7,2932.9L1319.7,2932.3L1322.6,2931.7L1325.5,2931.1L1328.5,2930.5L1331.4,2929.9L1334.4,2929.3L1337.3,2928.7L1340.2,2928.1L1343.2,2927.5L1346.1,2926.8L1349.0,2926.2L1351.9,2925.5L1354.9,2924.8L1357.8,2924.1L1360.7,2923.5L1363.6,2922.8L1366.5,2922.1L1369.5,2921.4L1372.4,2920.7L1375.3,2920.0L1378.2,2919.3L1381.1,2918.6L1384.1,2917.9L1387.0,2917.2L1389.9,2916.5L1392.8,2915.8L1395.7,2915.0L1398.6,2914.3L1401.5,2913.5L1404.4,2912.7L1407.3,2911.9L1410.2,2911.1L1413.1,2910.2L1415.9,2909.4L1418.8,2908.5L1421.7,2907.6L1424.5,2906.7L1427.4,2905.7L1430.2,2904.8L1433.1,2903.9L1435.9,2902.9L1438.8,2902.0L1441.6,2901.0L1444.4,2900.0L1447.3,2899.0L1450.1,2898.0L1452.9,2897.1L1455.8,2896.1L1458.6,2895.0L1461.4,2894.0L1464.1,2892.8L1466.8,2891.5L1469.5,2890.1L1472.1,2888.7L1474.7,2887.1L1477.3,2885.5L1479.8,2883.9L1482.2,2882.2L1484.7,2880.5L1487.1,2878.7L1489.5,2876.9L1491.9,2875.0L1494.2,2873.1L1496.5,2871.2L1498.8,2869.3L1501.0,2867.3L1503.3,2865.3L1505.5,2863.3L1507.8,2861.3L1510.1,2859.4L1512.3,2857.4L1514.6,2855.5L1516.9,2853.5L1519.1,2851.5L1521.3,2849.5L1523.5,2847.5L1525.7,2845.4L1527.8,2843.2L1529.8,2841.0L1531.8,2838.8L1533.7,2836.4L1535.5,2834.1L1537.3,2831.7L1539.2,2829.3L1541.0,2826.9L1542.9,2824.6L1544.8,2822.3L1546.8,2820.0L1548.7,2817.7L1550.7,2815.5L1552.7,2813.2L1554.7,2811.0L1556.7,2808.8L1558.7,2806.6L1560.8,2804.4L1563.0,2802.3L1565.2,2800.3L1567.5,2798.4L1569.8,2796.5L1572.3,2794.8L1574.9,2793.2L1577.5,2791.8L1580.2,2790.4L1582.9,2789.1L1585.6,2787.8L1588.3,2786.6L1591.1,2785.4L1593.9,2784.4L1596.7,2783.5L1599.7,2782.8L1602.6,2782.4L1605.6,2782.4L1608.6,2782.7L1611.6,2783.2L1614.5,2784.0L1617.3,2784.9L1620.2,2785.9L1623.0,2786.9L1625.8,2787.9L1628.6,2788.9L1631.5,2789.9L1634.3,2790.9L1637.1,2792.0L1639.9,2793.1L1642.6,2794.3L1645.4,2795.4L1648.2,2796.5L1651.0,2797.6L1653.9,2798.5L1656.7,2799.4L1659.6,2800.1L1662.6,2800.7L1665.6,2801.1L1668.5,2801.4L1671.5,2801.5L1674.5,2801.4L1677.5,2801.1L1680.5,2800.6L1683.4,2800.0L1686.3,2799.2L1689.2,2798.3L1692.0,2797.3L1694.8,2796.3L1697.6,2795.2L1700.3,2794.0L1703.1,2792.7L1705.8,2791.4L1708.4,2790.0L1711.0,2788.5L1713.6,2787.0L1716.2,2785.4L1718.7,2783.8L1721.1,2782.1L1723.6,2780.3L1726.0,2778.5L1728.3,2776.6L1730.7,2774.8L1733.0,2772.9L1735.3,2771.0L1737.6,2769.0L1739.9,2767.1L1742.2,2765.1L1744.4,2763.2L1746.7,2761.2L1749.0,2759.2L1751.2,2757.3L1753.5,2755.3L1755.8,2753.3L1758.0,2751.3L1760.2,2749.3L1762.4,2747.3L1764.7,2745.3L1766.8,2743.2L1769.0,2741.2L1771.2,2739.1L1773.3,2737.0L1775.4,2734.8L1777.5,2732.7L1779.5,2730.5L1781.6,2728.3L1783.6,2726.1L1785.6,2723.8L1787.5,2721.5L1789.4,2719.2L1791.2,2716.8L1792.9,2714.3L1794.6,2711.8L1796.3,2709.3L1797.9,2706.8L1799.5,2704.3L1801.0,2701.7L1802.5,2699.1L1804.0,2696.5L1805.5,2693.9L1807.0,2691.3L1808.5,2688.7L1809.9,2686.0L1811.4,2683.4L1812.8,2680.8L1814.2,2678.2L1815.7,2675.5L1817.1,2672.9L1818.5,2670.2L1819.9,2667.6L1821.3,2664.9L1822.7,2662.3L1824.1,2659.6L1825.5,2657.0L1827.0,2654.3L1828.4,2651.7L1829.8,2649.0L1831.1,2646.4L1832.5,2643.7L1833.9,2641.0L1835.2,2638.3L1836.5,2635.7L1837.9,2633.0L1839.2,2630.3L1840.5,2627.6L1841.8,2624.9L1843.2,2622.2L1844.5,2619.5L1845.9,2616.8L1847.2,2614.2L1848.6,2611.5L1850.1,2608.9L1851.5,2606.3L1853.0,2603.6L1854.4,2601.0L1855.9,2598.4L1857.4,2595.8L1858.9,2593.2L1860.4,2590.6L1861.9,2588.0L1863.4,2585.4L1864.9,2582.9" fill="none" stroke="#f37521" stroke-width="6.5" stroke-linecap="round" stroke-linejoin="round"/>
<text x="259.1" y="241.0" font-size="80.50" fill="#231f20">[Ru(bpy)</text>
<text x="569.0" y="256.6" font-size="38.28" fill="#231f20" >3</text>
<text x="590.8" y="241.0" font-size="80.50" fill="#231f20">]</text>
<text x="613.8" y="201.6" font-size="38.68" fill="#231f20" >2+</text>
<line x1="158.7" y1="312.2" x2="158.7" y2="499.5" stroke="#000" stroke-width="8"/><line x1="138.7" y1="312.2" x2="178.7" y2="312.2" stroke="#000" stroke-width="6"/><line x1="138.7" y1="499.5" x2="178.7" y2="499.5" stroke="#000" stroke-width="6"/>
<text x="218.9" y="432.9" font-size="81.40" fill="#231f20" letter-spacing="-0.75" >5 µA</text>
<text x="96.5" y="637.1" font-size="75.21" fill="#000" >1</text>
<text x="100.1" y="837.1" font-size="75.21" fill="#000" >3</text>
<text x="93.2" y="964.3" font-size="74.93" fill="#000" >5</text>
<text x="92.6" y="1210.0" font-size="75.93" fill="#000" >7</text>
<text x="95.1" y="1344.3" font-size="74.93" fill="#000" >9</text>
<text x="1328.2" y="803.8" font-size="65.82" fill="#000" letter-spacing="-0.71" >1.03 V</text>
<text x="1606.5" y="1132.6" font-size="64.41" fill="#000" >1.23 V</text>
<text x="258.0" y="1816.0" font-size="81.50" fill="#231f20">[Ru(phen)</text>
<text x="618.5" y="1831.4" font-size="36.44" fill="#231f20" >3</text>
<text x="640.7" y="1816.0" font-size="81.50" fill="#231f20">]</text>
<text x="663.4" y="1774.6" font-size="36.53" fill="#231f20" >2+</text>
<line x1="154.2" y1="1850.2" x2="154.2" y2="2087.4" stroke="#000" stroke-width="8"/><line x1="134.2" y1="1850.2" x2="174.2" y2="1850.2" stroke="#000" stroke-width="6"/><line x1="134.2" y1="2087.4" x2="174.2" y2="2087.4" stroke="#000" stroke-width="6"/>
<text x="206.0" y="1996.4" font-size="81.90" fill="#231f20" letter-spacing="-0.92" >5 µA</text>
<text x="93.8" y="2202.6" font-size="73.07" fill="#000" >1</text>
<text x="95.5" y="2526.9" font-size="74.36" fill="#000" >3</text>
<text x="90.5" y="2633.5" font-size="73.93" fill="#000" >5</text>
<text x="95.4" y="2808.0" font-size="75.50" fill="#000" >7</text>
<text x="92.6" y="2930.5" font-size="75.50" fill="#000" >9</text>
<text x="1352.2" y="2392.3" font-size="64.27" fill="#000" letter-spacing="0.16" >1.03 V</text>
<text x="1574.3" y="2557.7" font-size="65.11" fill="#000" letter-spacing="-0.55" >1.23 V</text>
<text x="237.2" y="3148.4" font-size="95.20" fill="#231f20" letter-spacing="-0.40" >0.0</text>
<text x="776.9" y="3147.5" font-size="98.02" fill="#231f20" letter-spacing="-0.61" >0.5</text>
<text x="1322.4" y="3147.6" font-size="96.89" fill="#231f20" letter-spacing="-2.22" >1.0</text>
<text x="1860.8" y="3147.6" font-size="98.28" fill="#231f20" letter-spacing="-1.66" >1.5</text>
<text x="728.2" y="3308.5" font-size="97.50" letter-spacing="-0.22" fill="#231f20"><tspan font-style="italic">E</tspan> / V vs Ag/AgCl</text>
<rect x="1270.0" y="76.3" width="559.5" height="376.3" fill="none" stroke="#000" stroke-width="7"/>
<line x1="1270.0" y1="151.3" x2="1278.0" y2="151.3" stroke="#000" stroke-width="4.5"/>
<line x1="1270.0" y1="226.7" x2="1280.0" y2="226.7" stroke="#000" stroke-width="5"/>
<line x1="1270.0" y1="302.0" x2="1278.0" y2="302.0" stroke="#000" stroke-width="4.5"/>
<line x1="1270.0" y1="377.6" x2="1280.0" y2="377.6" stroke="#000" stroke-width="5"/>
<line x1="1324.6" y1="452.6" x2="1324.6" y2="445.6" stroke="#000" stroke-width="4.5"/>
<line x1="1380.7" y1="452.6" x2="1380.7" y2="442.6" stroke="#000" stroke-width="5"/>
<line x1="1436.8" y1="452.6" x2="1436.8" y2="445.6" stroke="#000" stroke-width="4.5"/>
<line x1="1492.9" y1="452.6" x2="1492.9" y2="442.6" stroke="#000" stroke-width="5"/>
<line x1="1549.0" y1="452.6" x2="1549.0" y2="445.6" stroke="#000" stroke-width="4.5"/>
<line x1="1605.1" y1="452.6" x2="1605.1" y2="442.6" stroke="#000" stroke-width="5"/>
<line x1="1661.2" y1="452.6" x2="1661.2" y2="445.6" stroke="#000" stroke-width="4.5"/>
<line x1="1717.3" y1="452.6" x2="1717.3" y2="442.6" stroke="#000" stroke-width="5"/>
<line x1="1773.4" y1="452.6" x2="1773.4" y2="445.6" stroke="#000" stroke-width="4.5"/>
<text x="1147.0" y="104.1" font-size="66.53" fill="#000" >0.6</text>
<text x="1146.2" y="255.1" font-size="66.38" fill="#000" >0.4</text>
<text x="1146.0" y="406.2" font-size="67.51" fill="#000" >0.2</text>
<text x="1242.5" y="519.4" font-size="63.70" fill="#000" >0</text>
<text x="1344.3" y="520.0" font-size="64.61" fill="#000" >2</text>
<text x="1446.3" y="520.0" font-size="65.55" fill="#000" >4</text>
<text x="1550.6" y="519.4" font-size="63.70" fill="#000" >6</text>
<text x="1654.2" y="519.4" font-size="63.70" fill="#000" >8</text>
<text x="1747.4" y="519.4" font-size="63.70" fill="#000" >10</text>
<text x="1481.5" y="584.4" font-size="65.51" fill="#000" >pH</text>
<text x="0" y="0" font-size="66.72" letter-spacing="-0.92" fill="#000" transform="translate(1118.1,327.2) rotate(-90)">E / V</text>
<line x1="1289.0" y1="139.7" x2="1791.0" y2="438.6" stroke="#000" stroke-width="4.5"/>
<line x1="1325.0" y1="86.3" x2="1325.0" y2="166.7" stroke="#555" stroke-width="2.2"/>
<line x1="1319.0" y1="86.3" x2="1331.0" y2="86.3" stroke="#555" stroke-width="2.2"/>
<line x1="1319.0" y1="166.7" x2="1331.0" y2="166.7" stroke="#555" stroke-width="2.2"/>
<circle cx="1325.0" cy="126.8" r="10.5" fill="#000"/>
<line x1="1437.0" y1="252.2" x2="1437.0" y2="304.0" stroke="#555" stroke-width="2.2"/>
<line x1="1431.0" y1="252.2" x2="1443.0" y2="252.2" stroke="#555" stroke-width="2.2"/>
<line x1="1431.0" y1="304.0" x2="1443.0" y2="304.0" stroke="#555" stroke-width="2.2"/>
<circle cx="1437.0" cy="277.5" r="10.5" fill="#000"/>
<line x1="1549.0" y1="269.0" x2="1549.0" y2="316.9" stroke="#555" stroke-width="2.2"/>
<line x1="1543.0" y1="269.0" x2="1555.0" y2="269.0" stroke="#555" stroke-width="2.2"/>
<line x1="1543.0" y1="316.9" x2="1555.0" y2="316.9" stroke="#555" stroke-width="2.2"/>
<circle cx="1549.0" cy="292.7" r="10.5" fill="#000"/>
<line x1="1661.3" y1="349.0" x2="1661.3" y2="382.7" stroke="#555" stroke-width="2.2"/>
<line x1="1655.3" y1="349.0" x2="1667.3" y2="349.0" stroke="#555" stroke-width="2.2"/>
<line x1="1655.3" y1="382.7" x2="1667.3" y2="382.7" stroke="#555" stroke-width="2.2"/>
<circle cx="1661.3" cy="365.8" r="10.5" fill="#000"/>
<line x1="1773.4" y1="403.0" x2="1773.4" y2="423.5" stroke="#555" stroke-width="2.2"/>
<line x1="1767.4" y1="403.0" x2="1779.4" y2="403.0" stroke="#555" stroke-width="2.2"/>
<line x1="1767.4" y1="423.5" x2="1779.4" y2="423.5" stroke="#555" stroke-width="2.2"/>
<circle cx="1773.4" cy="413.6" r="10.5" fill="#000"/>
<rect x="1269.0" y="1673.0" width="565.5" height="382.5" fill="none" stroke="#000" stroke-width="7"/>
<line x1="1269.0" y1="1739.0" x2="1277.0" y2="1739.0" stroke="#000" stroke-width="4.5"/>
<line x1="1269.0" y1="1802.0" x2="1279.0" y2="1802.0" stroke="#000" stroke-width="5"/>
<line x1="1269.0" y1="1865.0" x2="1277.0" y2="1865.0" stroke="#000" stroke-width="4.5"/>
<line x1="1269.0" y1="1928.5" x2="1279.0" y2="1928.5" stroke="#000" stroke-width="5"/>
<line x1="1269.0" y1="1991.0" x2="1277.0" y2="1991.0" stroke="#000" stroke-width="4.5"/>
<line x1="1294.3" y1="2055.5" x2="1294.3" y2="2045.5" stroke="#000" stroke-width="5"/>
<line x1="1348.4" y1="2055.5" x2="1348.4" y2="2048.5" stroke="#000" stroke-width="4.5"/>
<line x1="1402.5" y1="2055.5" x2="1402.5" y2="2045.5" stroke="#000" stroke-width="5"/>
<line x1="1456.6" y1="2055.5" x2="1456.6" y2="2048.5" stroke="#000" stroke-width="4.5"/>
<line x1="1510.7" y1="2055.5" x2="1510.7" y2="2045.5" stroke="#000" stroke-width="5"/>
<line x1="1564.8" y1="2055.5" x2="1564.8" y2="2048.5" stroke="#000" stroke-width="4.5"/>
<line x1="1618.9" y1="2055.5" x2="1618.9" y2="2045.5" stroke="#000" stroke-width="5"/>
<line x1="1673.0" y1="2055.5" x2="1673.0" y2="2048.5" stroke="#000" stroke-width="4.5"/>
<line x1="1727.1" y1="2055.5" x2="1727.1" y2="2045.5" stroke="#000" stroke-width="5"/>
<line x1="1781.2" y1="2055.5" x2="1781.2" y2="2048.5" stroke="#000" stroke-width="4.5"/>
<text x="1159.7" y="1693.7" font-size="63.56" fill="#000" >0.6</text>
<text x="1158.8" y="1820.7" font-size="63.56" fill="#000" >0.4</text>
<text x="1160.1" y="1947.8" font-size="63.56" fill="#000" >0.2</text>
<text x="1157.3" y="2074.6" font-size="65.11" fill="#000" >0.0</text>
<text x="1273.1" y="2120.2" font-size="64.83" fill="#000" >0</text>
<text x="1368.7" y="2120.8" font-size="65.76" fill="#000" >2</text>
<text x="1465.7" y="2120.8" font-size="66.72" fill="#000" >4</text>
<text x="1563.0" y="2120.2" font-size="64.83" fill="#000" >6</text>
<text x="1662.1" y="2120.2" font-size="64.83" fill="#000" >8</text>
<text x="1748.8" y="2120.2" font-size="64.83" fill="#000" >10</text>
<text x="1494.2" y="2190.3" font-size="66.41" fill="#000" >pH</text>
<text x="0" y="0" font-size="68.46" letter-spacing="-2.52" fill="#000" transform="translate(1123.5,1927.5) rotate(-90)">E / V</text>
<line x1="1315.5" y1="1720.2" x2="1818.1" y2="2014.9" stroke="#000" stroke-width="4.5"/>
<line x1="1349.3" y1="1685.0" x2="1349.3" y2="1753.3" stroke="#555" stroke-width="2.2"/>
<line x1="1343.3" y1="1685.0" x2="1355.3" y2="1685.0" stroke="#555" stroke-width="2.2"/>
<line x1="1343.3" y1="1753.3" x2="1355.3" y2="1753.3" stroke="#555" stroke-width="2.2"/>
<rect x="1339.8" y="1709.8" width="19" height="18" fill="#000"/>
<line x1="1456.2" y1="1822.8" x2="1456.2" y2="1865.0" stroke="#555" stroke-width="2.2"/>
<line x1="1450.2" y1="1822.8" x2="1462.2" y2="1822.8" stroke="#555" stroke-width="2.2"/>
<line x1="1450.2" y1="1865.0" x2="1462.2" y2="1865.0" stroke="#555" stroke-width="2.2"/>
<rect x="1446.7" y="1836.3" width="19" height="18" fill="#000"/>
<line x1="1564.7" y1="1832.4" x2="1564.7" y2="1871.8" stroke="#555" stroke-width="2.2"/>
<line x1="1558.7" y1="1832.4" x2="1570.7" y2="1832.4" stroke="#555" stroke-width="2.2"/>
<line x1="1558.7" y1="1871.8" x2="1570.7" y2="1871.8" stroke="#555" stroke-width="2.2"/>
<rect x="1555.2" y="1843.6" width="19" height="18" fill="#000"/>
<line x1="1672.6" y1="1920.0" x2="1672.6" y2="1943.8" stroke="#555" stroke-width="2.2"/>
<line x1="1666.6" y1="1920.0" x2="1678.6" y2="1920.0" stroke="#555" stroke-width="2.2"/>
<line x1="1666.6" y1="1943.8" x2="1678.6" y2="1943.8" stroke="#555" stroke-width="2.2"/>
<rect x="1663.1" y="1923.0" width="19" height="18" fill="#000"/>
<line x1="1780.4" y1="1977.6" x2="1780.4" y2="2004.4" stroke="#555" stroke-width="2.2"/>
<line x1="1774.4" y1="1977.6" x2="1786.4" y2="1977.6" stroke="#555" stroke-width="2.2"/>
<line x1="1774.4" y1="2004.4" x2="1786.4" y2="2004.4" stroke="#555" stroke-width="2.2"/>
<rect x="1770.9" y="1982.1" width="19" height="18" fill="#000"/>
</svg></body></html>
